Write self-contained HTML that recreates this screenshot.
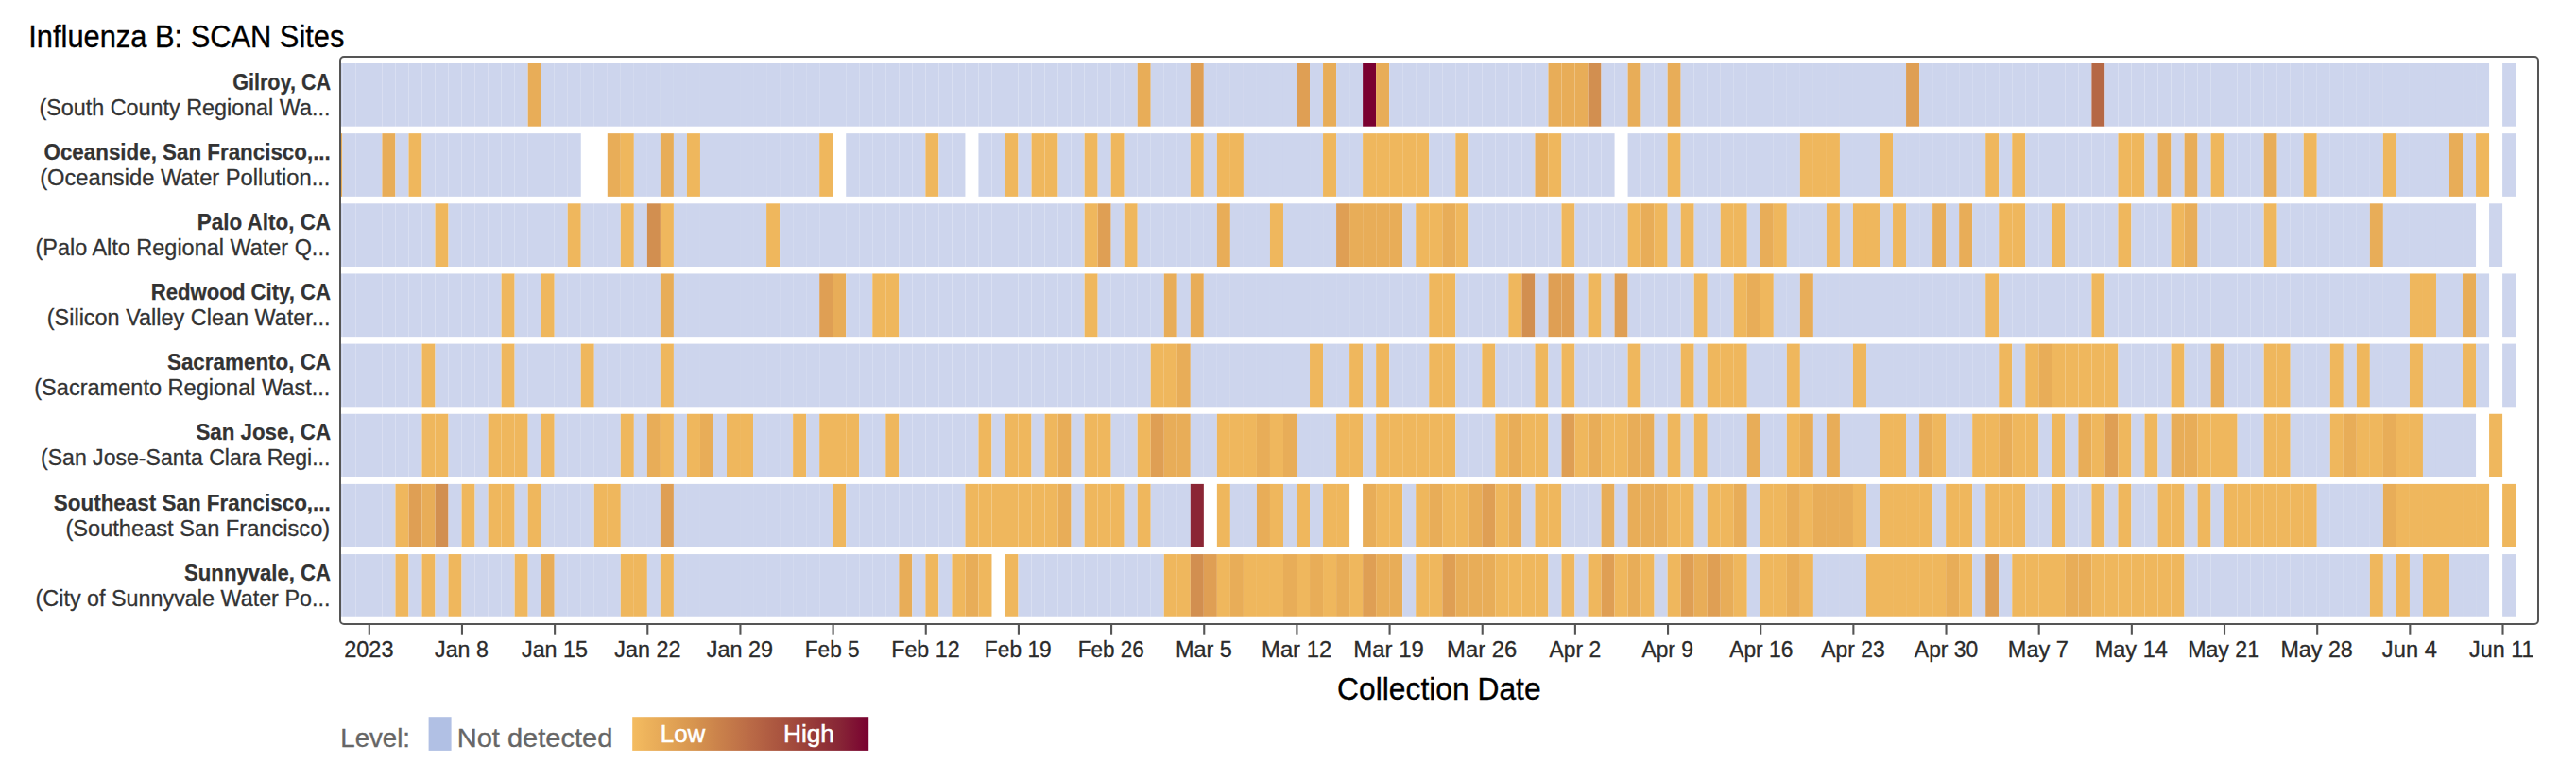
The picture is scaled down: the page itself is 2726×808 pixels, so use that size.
<!DOCTYPE html>
<html lang="en"><head><meta charset="utf-8"><title>Influenza B: SCAN Sites</title>
<style>
html,body{margin:0;padding:0;background:#fff;}
body{width:2726px;height:808px;overflow:hidden;font-family:"Liberation Sans",sans-serif;}
svg{display:block;}
text{font-family:"Liberation Sans",sans-serif;}
.t{font-size:32.6px;fill:#000;stroke:#000;stroke-width:0.35px;}
.lb{font-size:24.4px;font-weight:bold;fill:#333;stroke:#333;stroke-width:0.25px;}
.ls{font-size:24.4px;fill:#333;stroke:#333;stroke-width:0.3px;}
.tk{font-size:24.4px;fill:#2b2b2b;stroke:#2b2b2b;stroke-width:0.3px;}
.lg{font-size:28.5px;fill:#666;stroke:#666;stroke-width:0.35px;}
.lh{font-size:25px;fill:#fff;stroke:#fff;stroke-width:0.5px;}
</style></head><body>
<svg width="2726" height="808" viewBox="0 0 2726 808">
<defs>
<linearGradient id="g" x1="0" y1="0" x2="1" y2="0">
<stop offset="0" stop-color="#f4bc60"/><stop offset="0.25" stop-color="#d8964f"/><stop offset="0.5" stop-color="#ba6a46"/><stop offset="0.72" stop-color="#9d433a"/><stop offset="0.88" stop-color="#872536"/><stop offset="1" stop-color="#780030"/>
</linearGradient>
<clipPath id="cp"><rect x="360.5" y="60.5" width="2325" height="599" rx="3.5"/></clipPath>
</defs>
<rect width="2726" height="808" fill="#fff"/>
<g clip-path="url(#cp)">
<g transform="translate(0,67.00)">
<rect x="348.33" width="14.023" height="66.7" fill="#cdd5ed"/>
<rect x="362.35" width="14.023" height="66.7" fill="#cdd5ed"/>
<rect x="376.37" width="14.023" height="66.7" fill="#cdd5ed"/>
<rect x="390.40" width="14.023" height="66.7" fill="#cdd5ed"/>
<rect x="404.42" width="14.023" height="66.7" fill="#cdd5ed"/>
<rect x="418.44" width="14.023" height="66.7" fill="#cdd5ed"/>
<rect x="432.47" width="14.023" height="66.7" fill="#cdd5ed"/>
<rect x="446.49" width="14.023" height="66.7" fill="#cdd5ed"/>
<rect x="460.51" width="14.023" height="66.7" fill="#cdd5ed"/>
<rect x="474.53" width="14.023" height="66.7" fill="#cdd5ed"/>
<rect x="488.56" width="14.023" height="66.7" fill="#cdd5ed"/>
<rect x="502.58" width="14.023" height="66.7" fill="#cdd5ed"/>
<rect x="516.60" width="14.023" height="66.7" fill="#cdd5ed"/>
<rect x="530.63" width="14.023" height="66.7" fill="#cdd5ed"/>
<rect x="544.65" width="14.023" height="66.7" fill="#cdd5ed"/>
<rect x="558.67" width="14.023" height="66.7" fill="#e8ad58"/>
<rect x="572.70" width="14.023" height="66.7" fill="#cdd5ed"/>
<rect x="586.72" width="14.023" height="66.7" fill="#cdd5ed"/>
<rect x="600.74" width="14.023" height="66.7" fill="#cdd5ed"/>
<rect x="614.76" width="14.023" height="66.7" fill="#cdd5ed"/>
<rect x="628.79" width="14.023" height="66.7" fill="#cdd5ed"/>
<rect x="642.81" width="14.023" height="66.7" fill="#cdd5ed"/>
<rect x="656.83" width="14.023" height="66.7" fill="#cdd5ed"/>
<rect x="670.86" width="14.023" height="66.7" fill="#cdd5ed"/>
<rect x="684.88" width="14.023" height="66.7" fill="#cdd5ed"/>
<rect x="698.90" width="14.023" height="66.7" fill="#cdd5ed"/>
<rect x="712.92" width="14.023" height="66.7" fill="#cdd5ed"/>
<rect x="726.95" width="14.023" height="66.7" fill="#cdd5ed"/>
<rect x="740.97" width="14.023" height="66.7" fill="#cdd5ed"/>
<rect x="754.99" width="14.023" height="66.7" fill="#cdd5ed"/>
<rect x="769.02" width="14.023" height="66.7" fill="#cdd5ed"/>
<rect x="783.04" width="14.023" height="66.7" fill="#cdd5ed"/>
<rect x="797.06" width="14.023" height="66.7" fill="#cdd5ed"/>
<rect x="811.09" width="14.023" height="66.7" fill="#cdd5ed"/>
<rect x="825.11" width="14.023" height="66.7" fill="#cdd5ed"/>
<rect x="839.13" width="14.023" height="66.7" fill="#cdd5ed"/>
<rect x="853.15" width="14.023" height="66.7" fill="#cdd5ed"/>
<rect x="867.18" width="14.023" height="66.7" fill="#cdd5ed"/>
<rect x="881.20" width="14.023" height="66.7" fill="#cdd5ed"/>
<rect x="895.22" width="14.023" height="66.7" fill="#cdd5ed"/>
<rect x="909.25" width="14.023" height="66.7" fill="#cdd5ed"/>
<rect x="923.27" width="14.023" height="66.7" fill="#cdd5ed"/>
<rect x="937.29" width="14.023" height="66.7" fill="#cdd5ed"/>
<rect x="951.32" width="14.023" height="66.7" fill="#cdd5ed"/>
<rect x="965.34" width="14.023" height="66.7" fill="#cdd5ed"/>
<rect x="979.36" width="14.023" height="66.7" fill="#cdd5ed"/>
<rect x="993.38" width="14.023" height="66.7" fill="#cdd5ed"/>
<rect x="1007.41" width="14.023" height="66.7" fill="#cdd5ed"/>
<rect x="1021.43" width="14.023" height="66.7" fill="#cdd5ed"/>
<rect x="1035.45" width="14.023" height="66.7" fill="#cdd5ed"/>
<rect x="1049.48" width="14.023" height="66.7" fill="#cdd5ed"/>
<rect x="1063.50" width="14.023" height="66.7" fill="#cdd5ed"/>
<rect x="1077.52" width="14.023" height="66.7" fill="#cdd5ed"/>
<rect x="1091.55" width="14.023" height="66.7" fill="#cdd5ed"/>
<rect x="1105.57" width="14.023" height="66.7" fill="#cdd5ed"/>
<rect x="1119.59" width="14.023" height="66.7" fill="#cdd5ed"/>
<rect x="1133.62" width="14.023" height="66.7" fill="#cdd5ed"/>
<rect x="1147.64" width="14.023" height="66.7" fill="#cdd5ed"/>
<rect x="1161.66" width="14.023" height="66.7" fill="#cdd5ed"/>
<rect x="1175.68" width="14.023" height="66.7" fill="#cdd5ed"/>
<rect x="1189.71" width="14.023" height="66.7" fill="#cdd5ed"/>
<rect x="1203.73" width="14.023" height="66.7" fill="#e8ad58"/>
<rect x="1217.75" width="14.023" height="66.7" fill="#cdd5ed"/>
<rect x="1231.78" width="14.023" height="66.7" fill="#cdd5ed"/>
<rect x="1245.80" width="14.023" height="66.7" fill="#cdd5ed"/>
<rect x="1259.82" width="14.023" height="66.7" fill="#df9f54"/>
<rect x="1273.85" width="14.023" height="66.7" fill="#cdd5ed"/>
<rect x="1287.87" width="14.023" height="66.7" fill="#cdd5ed"/>
<rect x="1301.89" width="14.023" height="66.7" fill="#cdd5ed"/>
<rect x="1315.91" width="14.023" height="66.7" fill="#cdd5ed"/>
<rect x="1329.94" width="14.023" height="66.7" fill="#cdd5ed"/>
<rect x="1343.96" width="14.023" height="66.7" fill="#cdd5ed"/>
<rect x="1357.98" width="14.023" height="66.7" fill="#cdd5ed"/>
<rect x="1372.01" width="14.023" height="66.7" fill="#df9f54"/>
<rect x="1386.03" width="14.023" height="66.7" fill="#cdd5ed"/>
<rect x="1400.05" width="14.023" height="66.7" fill="#e8ad58"/>
<rect x="1414.07" width="14.023" height="66.7" fill="#cdd5ed"/>
<rect x="1428.10" width="14.023" height="66.7" fill="#cdd5ed"/>
<rect x="1442.12" width="14.023" height="66.7" fill="#7a0030"/>
<rect x="1456.14" width="14.023" height="66.7" fill="#e8ad58"/>
<rect x="1470.17" width="14.023" height="66.7" fill="#cdd5ed"/>
<rect x="1484.19" width="14.023" height="66.7" fill="#cdd5ed"/>
<rect x="1498.21" width="14.023" height="66.7" fill="#cdd5ed"/>
<rect x="1512.24" width="14.023" height="66.7" fill="#cdd5ed"/>
<rect x="1526.26" width="14.023" height="66.7" fill="#cdd5ed"/>
<rect x="1540.28" width="14.023" height="66.7" fill="#cdd5ed"/>
<rect x="1554.30" width="14.023" height="66.7" fill="#cdd5ed"/>
<rect x="1568.33" width="14.023" height="66.7" fill="#cdd5ed"/>
<rect x="1582.35" width="14.023" height="66.7" fill="#cdd5ed"/>
<rect x="1596.37" width="14.023" height="66.7" fill="#cdd5ed"/>
<rect x="1610.40" width="14.023" height="66.7" fill="#cdd5ed"/>
<rect x="1624.42" width="14.023" height="66.7" fill="#cdd5ed"/>
<rect x="1638.44" width="14.023" height="66.7" fill="#e8ad58"/>
<rect x="1652.47" width="14.023" height="66.7" fill="#e8ad58"/>
<rect x="1666.49" width="14.023" height="66.7" fill="#e8ad58"/>
<rect x="1680.51" width="14.023" height="66.7" fill="#d28f50"/>
<rect x="1694.53" width="14.023" height="66.7" fill="#cdd5ed"/>
<rect x="1708.56" width="14.023" height="66.7" fill="#cdd5ed"/>
<rect x="1722.58" width="14.023" height="66.7" fill="#e8ad58"/>
<rect x="1736.60" width="14.023" height="66.7" fill="#cdd5ed"/>
<rect x="1750.63" width="14.023" height="66.7" fill="#cdd5ed"/>
<rect x="1764.65" width="14.023" height="66.7" fill="#e8ad58"/>
<rect x="1778.67" width="14.023" height="66.7" fill="#cdd5ed"/>
<rect x="1792.70" width="14.023" height="66.7" fill="#cdd5ed"/>
<rect x="1806.72" width="14.023" height="66.7" fill="#cdd5ed"/>
<rect x="1820.74" width="14.023" height="66.7" fill="#cdd5ed"/>
<rect x="1834.76" width="14.023" height="66.7" fill="#cdd5ed"/>
<rect x="1848.79" width="14.023" height="66.7" fill="#cdd5ed"/>
<rect x="1862.81" width="14.023" height="66.7" fill="#cdd5ed"/>
<rect x="1876.83" width="14.023" height="66.7" fill="#cdd5ed"/>
<rect x="1890.86" width="14.023" height="66.7" fill="#cdd5ed"/>
<rect x="1904.88" width="14.023" height="66.7" fill="#cdd5ed"/>
<rect x="1918.90" width="14.023" height="66.7" fill="#cdd5ed"/>
<rect x="1932.93" width="14.023" height="66.7" fill="#cdd5ed"/>
<rect x="1946.95" width="14.023" height="66.7" fill="#cdd5ed"/>
<rect x="1960.97" width="14.023" height="66.7" fill="#cdd5ed"/>
<rect x="1974.99" width="14.023" height="66.7" fill="#cdd5ed"/>
<rect x="1989.02" width="14.023" height="66.7" fill="#cdd5ed"/>
<rect x="2003.04" width="14.023" height="66.7" fill="#cdd5ed"/>
<rect x="2017.06" width="14.023" height="66.7" fill="#df9f54"/>
<rect x="2031.09" width="14.023" height="66.7" fill="#cdd5ed"/>
<rect x="2045.11" width="14.023" height="66.7" fill="#cdd5ed"/>
<rect x="2059.13" width="14.023" height="66.7" fill="#cdd5ed"/>
<rect x="2073.16" width="14.023" height="66.7" fill="#cdd5ed"/>
<rect x="2087.18" width="14.023" height="66.7" fill="#cdd5ed"/>
<rect x="2101.20" width="14.023" height="66.7" fill="#cdd5ed"/>
<rect x="2115.22" width="14.023" height="66.7" fill="#cdd5ed"/>
<rect x="2129.25" width="14.023" height="66.7" fill="#cdd5ed"/>
<rect x="2143.27" width="14.023" height="66.7" fill="#cdd5ed"/>
<rect x="2157.29" width="14.023" height="66.7" fill="#cdd5ed"/>
<rect x="2171.32" width="14.023" height="66.7" fill="#cdd5ed"/>
<rect x="2185.34" width="14.023" height="66.7" fill="#cdd5ed"/>
<rect x="2199.36" width="14.023" height="66.7" fill="#cdd5ed"/>
<rect x="2213.39" width="14.023" height="66.7" fill="#b56845"/>
<rect x="2227.41" width="14.023" height="66.7" fill="#cdd5ed"/>
<rect x="2241.43" width="14.023" height="66.7" fill="#cdd5ed"/>
<rect x="2255.45" width="14.023" height="66.7" fill="#cdd5ed"/>
<rect x="2269.48" width="14.023" height="66.7" fill="#cdd5ed"/>
<rect x="2283.50" width="14.023" height="66.7" fill="#cdd5ed"/>
<rect x="2297.52" width="14.023" height="66.7" fill="#cdd5ed"/>
<rect x="2311.55" width="14.023" height="66.7" fill="#cdd5ed"/>
<rect x="2325.57" width="14.023" height="66.7" fill="#cdd5ed"/>
<rect x="2339.59" width="14.023" height="66.7" fill="#cdd5ed"/>
<rect x="2353.62" width="14.023" height="66.7" fill="#cdd5ed"/>
<rect x="2367.64" width="14.023" height="66.7" fill="#cdd5ed"/>
<rect x="2381.66" width="14.023" height="66.7" fill="#cdd5ed"/>
<rect x="2395.68" width="14.023" height="66.7" fill="#cdd5ed"/>
<rect x="2409.71" width="14.023" height="66.7" fill="#cdd5ed"/>
<rect x="2423.73" width="14.023" height="66.7" fill="#cdd5ed"/>
<rect x="2437.75" width="14.023" height="66.7" fill="#cdd5ed"/>
<rect x="2451.78" width="14.023" height="66.7" fill="#cdd5ed"/>
<rect x="2465.80" width="14.023" height="66.7" fill="#cdd5ed"/>
<rect x="2479.82" width="14.023" height="66.7" fill="#cdd5ed"/>
<rect x="2493.85" width="14.023" height="66.7" fill="#cdd5ed"/>
<rect x="2507.87" width="14.023" height="66.7" fill="#cdd5ed"/>
<rect x="2521.89" width="14.023" height="66.7" fill="#cdd5ed"/>
<rect x="2535.91" width="14.023" height="66.7" fill="#cdd5ed"/>
<rect x="2549.94" width="14.023" height="66.7" fill="#cdd5ed"/>
<rect x="2563.96" width="14.023" height="66.7" fill="#cdd5ed"/>
<rect x="2577.98" width="14.023" height="66.7" fill="#cdd5ed"/>
<rect x="2592.01" width="14.023" height="66.7" fill="#cdd5ed"/>
<rect x="2606.03" width="14.023" height="66.7" fill="#cdd5ed"/>
<rect x="2620.05" width="14.023" height="66.7" fill="#cdd5ed"/>
<rect x="2648.10" width="14.023" height="66.7" fill="#cdd5ed"/>
</g>
<g transform="translate(0,141.15)">
<rect x="348.33" width="14.023" height="66.7" fill="#e8ad58"/>
<rect x="362.35" width="14.023" height="66.7" fill="#cdd5ed"/>
<rect x="376.37" width="14.023" height="66.7" fill="#cdd5ed"/>
<rect x="390.40" width="14.023" height="66.7" fill="#cdd5ed"/>
<rect x="404.42" width="14.023" height="66.7" fill="#e8ad58"/>
<rect x="418.44" width="14.023" height="66.7" fill="#cdd5ed"/>
<rect x="432.47" width="14.023" height="66.7" fill="#efb75d"/>
<rect x="446.49" width="14.023" height="66.7" fill="#cdd5ed"/>
<rect x="460.51" width="14.023" height="66.7" fill="#cdd5ed"/>
<rect x="474.53" width="14.023" height="66.7" fill="#cdd5ed"/>
<rect x="488.56" width="14.023" height="66.7" fill="#cdd5ed"/>
<rect x="502.58" width="14.023" height="66.7" fill="#cdd5ed"/>
<rect x="516.60" width="14.023" height="66.7" fill="#cdd5ed"/>
<rect x="530.63" width="14.023" height="66.7" fill="#cdd5ed"/>
<rect x="544.65" width="14.023" height="66.7" fill="#cdd5ed"/>
<rect x="558.67" width="14.023" height="66.7" fill="#cdd5ed"/>
<rect x="572.70" width="14.023" height="66.7" fill="#cdd5ed"/>
<rect x="586.72" width="14.023" height="66.7" fill="#cdd5ed"/>
<rect x="600.74" width="14.023" height="66.7" fill="#cdd5ed"/>
<rect x="642.81" width="14.023" height="66.7" fill="#e8ad58"/>
<rect x="656.83" width="14.023" height="66.7" fill="#efb75d"/>
<rect x="670.86" width="14.023" height="66.7" fill="#cdd5ed"/>
<rect x="684.88" width="14.023" height="66.7" fill="#cdd5ed"/>
<rect x="698.90" width="14.023" height="66.7" fill="#e8ad58"/>
<rect x="712.92" width="14.023" height="66.7" fill="#cdd5ed"/>
<rect x="726.95" width="14.023" height="66.7" fill="#efb75d"/>
<rect x="740.97" width="14.023" height="66.7" fill="#cdd5ed"/>
<rect x="754.99" width="14.023" height="66.7" fill="#cdd5ed"/>
<rect x="769.02" width="14.023" height="66.7" fill="#cdd5ed"/>
<rect x="783.04" width="14.023" height="66.7" fill="#cdd5ed"/>
<rect x="797.06" width="14.023" height="66.7" fill="#cdd5ed"/>
<rect x="811.09" width="14.023" height="66.7" fill="#cdd5ed"/>
<rect x="825.11" width="14.023" height="66.7" fill="#cdd5ed"/>
<rect x="839.13" width="14.023" height="66.7" fill="#cdd5ed"/>
<rect x="853.15" width="14.023" height="66.7" fill="#cdd5ed"/>
<rect x="867.18" width="14.023" height="66.7" fill="#efb75d"/>
<rect x="895.22" width="14.023" height="66.7" fill="#cdd5ed"/>
<rect x="909.25" width="14.023" height="66.7" fill="#cdd5ed"/>
<rect x="923.27" width="14.023" height="66.7" fill="#cdd5ed"/>
<rect x="937.29" width="14.023" height="66.7" fill="#cdd5ed"/>
<rect x="951.32" width="14.023" height="66.7" fill="#cdd5ed"/>
<rect x="965.34" width="14.023" height="66.7" fill="#cdd5ed"/>
<rect x="979.36" width="14.023" height="66.7" fill="#efb75d"/>
<rect x="993.38" width="14.023" height="66.7" fill="#cdd5ed"/>
<rect x="1007.41" width="14.023" height="66.7" fill="#cdd5ed"/>
<rect x="1035.45" width="14.023" height="66.7" fill="#cdd5ed"/>
<rect x="1049.48" width="14.023" height="66.7" fill="#cdd5ed"/>
<rect x="1063.50" width="14.023" height="66.7" fill="#efb75d"/>
<rect x="1077.52" width="14.023" height="66.7" fill="#cdd5ed"/>
<rect x="1091.55" width="14.023" height="66.7" fill="#efb75d"/>
<rect x="1105.57" width="14.023" height="66.7" fill="#efb75d"/>
<rect x="1119.59" width="14.023" height="66.7" fill="#cdd5ed"/>
<rect x="1133.62" width="14.023" height="66.7" fill="#cdd5ed"/>
<rect x="1147.64" width="14.023" height="66.7" fill="#efb75d"/>
<rect x="1161.66" width="14.023" height="66.7" fill="#cdd5ed"/>
<rect x="1175.68" width="14.023" height="66.7" fill="#efb75d"/>
<rect x="1189.71" width="14.023" height="66.7" fill="#cdd5ed"/>
<rect x="1203.73" width="14.023" height="66.7" fill="#cdd5ed"/>
<rect x="1217.75" width="14.023" height="66.7" fill="#cdd5ed"/>
<rect x="1231.78" width="14.023" height="66.7" fill="#cdd5ed"/>
<rect x="1245.80" width="14.023" height="66.7" fill="#cdd5ed"/>
<rect x="1259.82" width="14.023" height="66.7" fill="#efb75d"/>
<rect x="1273.85" width="14.023" height="66.7" fill="#cdd5ed"/>
<rect x="1287.87" width="14.023" height="66.7" fill="#efb75d"/>
<rect x="1301.89" width="14.023" height="66.7" fill="#efb75d"/>
<rect x="1315.91" width="14.023" height="66.7" fill="#cdd5ed"/>
<rect x="1329.94" width="14.023" height="66.7" fill="#cdd5ed"/>
<rect x="1343.96" width="14.023" height="66.7" fill="#cdd5ed"/>
<rect x="1357.98" width="14.023" height="66.7" fill="#cdd5ed"/>
<rect x="1372.01" width="14.023" height="66.7" fill="#cdd5ed"/>
<rect x="1386.03" width="14.023" height="66.7" fill="#cdd5ed"/>
<rect x="1400.05" width="14.023" height="66.7" fill="#efb75d"/>
<rect x="1414.07" width="14.023" height="66.7" fill="#cdd5ed"/>
<rect x="1428.10" width="14.023" height="66.7" fill="#cdd5ed"/>
<rect x="1442.12" width="14.023" height="66.7" fill="#efb75d"/>
<rect x="1456.14" width="14.023" height="66.7" fill="#efb75d"/>
<rect x="1470.17" width="14.023" height="66.7" fill="#efb75d"/>
<rect x="1484.19" width="14.023" height="66.7" fill="#efb75d"/>
<rect x="1498.21" width="14.023" height="66.7" fill="#efb75d"/>
<rect x="1512.24" width="14.023" height="66.7" fill="#cdd5ed"/>
<rect x="1526.26" width="14.023" height="66.7" fill="#cdd5ed"/>
<rect x="1540.28" width="14.023" height="66.7" fill="#efb75d"/>
<rect x="1554.30" width="14.023" height="66.7" fill="#cdd5ed"/>
<rect x="1568.33" width="14.023" height="66.7" fill="#cdd5ed"/>
<rect x="1582.35" width="14.023" height="66.7" fill="#cdd5ed"/>
<rect x="1596.37" width="14.023" height="66.7" fill="#cdd5ed"/>
<rect x="1610.40" width="14.023" height="66.7" fill="#cdd5ed"/>
<rect x="1624.42" width="14.023" height="66.7" fill="#e8ad58"/>
<rect x="1638.44" width="14.023" height="66.7" fill="#efb75d"/>
<rect x="1652.47" width="14.023" height="66.7" fill="#cdd5ed"/>
<rect x="1666.49" width="14.023" height="66.7" fill="#cdd5ed"/>
<rect x="1680.51" width="14.023" height="66.7" fill="#cdd5ed"/>
<rect x="1694.53" width="14.023" height="66.7" fill="#cdd5ed"/>
<rect x="1722.58" width="14.023" height="66.7" fill="#cdd5ed"/>
<rect x="1736.60" width="14.023" height="66.7" fill="#cdd5ed"/>
<rect x="1750.63" width="14.023" height="66.7" fill="#cdd5ed"/>
<rect x="1764.65" width="14.023" height="66.7" fill="#efb75d"/>
<rect x="1778.67" width="14.023" height="66.7" fill="#cdd5ed"/>
<rect x="1792.70" width="14.023" height="66.7" fill="#cdd5ed"/>
<rect x="1806.72" width="14.023" height="66.7" fill="#cdd5ed"/>
<rect x="1820.74" width="14.023" height="66.7" fill="#cdd5ed"/>
<rect x="1834.76" width="14.023" height="66.7" fill="#cdd5ed"/>
<rect x="1848.79" width="14.023" height="66.7" fill="#cdd5ed"/>
<rect x="1862.81" width="14.023" height="66.7" fill="#cdd5ed"/>
<rect x="1876.83" width="14.023" height="66.7" fill="#cdd5ed"/>
<rect x="1890.86" width="14.023" height="66.7" fill="#cdd5ed"/>
<rect x="1904.88" width="14.023" height="66.7" fill="#efb75d"/>
<rect x="1918.90" width="14.023" height="66.7" fill="#efb75d"/>
<rect x="1932.93" width="14.023" height="66.7" fill="#efb75d"/>
<rect x="1946.95" width="14.023" height="66.7" fill="#cdd5ed"/>
<rect x="1960.97" width="14.023" height="66.7" fill="#cdd5ed"/>
<rect x="1974.99" width="14.023" height="66.7" fill="#cdd5ed"/>
<rect x="1989.02" width="14.023" height="66.7" fill="#efb75d"/>
<rect x="2003.04" width="14.023" height="66.7" fill="#cdd5ed"/>
<rect x="2017.06" width="14.023" height="66.7" fill="#cdd5ed"/>
<rect x="2031.09" width="14.023" height="66.7" fill="#cdd5ed"/>
<rect x="2045.11" width="14.023" height="66.7" fill="#cdd5ed"/>
<rect x="2059.13" width="14.023" height="66.7" fill="#cdd5ed"/>
<rect x="2073.16" width="14.023" height="66.7" fill="#cdd5ed"/>
<rect x="2087.18" width="14.023" height="66.7" fill="#cdd5ed"/>
<rect x="2101.20" width="14.023" height="66.7" fill="#efb75d"/>
<rect x="2115.22" width="14.023" height="66.7" fill="#cdd5ed"/>
<rect x="2129.25" width="14.023" height="66.7" fill="#efb75d"/>
<rect x="2143.27" width="14.023" height="66.7" fill="#cdd5ed"/>
<rect x="2157.29" width="14.023" height="66.7" fill="#cdd5ed"/>
<rect x="2171.32" width="14.023" height="66.7" fill="#cdd5ed"/>
<rect x="2185.34" width="14.023" height="66.7" fill="#cdd5ed"/>
<rect x="2199.36" width="14.023" height="66.7" fill="#cdd5ed"/>
<rect x="2213.39" width="14.023" height="66.7" fill="#cdd5ed"/>
<rect x="2227.41" width="14.023" height="66.7" fill="#cdd5ed"/>
<rect x="2241.43" width="14.023" height="66.7" fill="#efb75d"/>
<rect x="2255.45" width="14.023" height="66.7" fill="#efb75d"/>
<rect x="2269.48" width="14.023" height="66.7" fill="#cdd5ed"/>
<rect x="2283.50" width="14.023" height="66.7" fill="#e8ad58"/>
<rect x="2297.52" width="14.023" height="66.7" fill="#cdd5ed"/>
<rect x="2311.55" width="14.023" height="66.7" fill="#e8ad58"/>
<rect x="2325.57" width="14.023" height="66.7" fill="#cdd5ed"/>
<rect x="2339.59" width="14.023" height="66.7" fill="#efb75d"/>
<rect x="2353.62" width="14.023" height="66.7" fill="#cdd5ed"/>
<rect x="2367.64" width="14.023" height="66.7" fill="#cdd5ed"/>
<rect x="2381.66" width="14.023" height="66.7" fill="#cdd5ed"/>
<rect x="2395.68" width="14.023" height="66.7" fill="#e8ad58"/>
<rect x="2409.71" width="14.023" height="66.7" fill="#cdd5ed"/>
<rect x="2423.73" width="14.023" height="66.7" fill="#cdd5ed"/>
<rect x="2437.75" width="14.023" height="66.7" fill="#efb75d"/>
<rect x="2451.78" width="14.023" height="66.7" fill="#cdd5ed"/>
<rect x="2465.80" width="14.023" height="66.7" fill="#cdd5ed"/>
<rect x="2479.82" width="14.023" height="66.7" fill="#cdd5ed"/>
<rect x="2493.85" width="14.023" height="66.7" fill="#cdd5ed"/>
<rect x="2507.87" width="14.023" height="66.7" fill="#cdd5ed"/>
<rect x="2521.89" width="14.023" height="66.7" fill="#efb75d"/>
<rect x="2535.91" width="14.023" height="66.7" fill="#cdd5ed"/>
<rect x="2549.94" width="14.023" height="66.7" fill="#cdd5ed"/>
<rect x="2563.96" width="14.023" height="66.7" fill="#cdd5ed"/>
<rect x="2577.98" width="14.023" height="66.7" fill="#cdd5ed"/>
<rect x="2592.01" width="14.023" height="66.7" fill="#e8ad58"/>
<rect x="2606.03" width="14.023" height="66.7" fill="#cdd5ed"/>
<rect x="2620.05" width="14.023" height="66.7" fill="#efb75d"/>
<rect x="2648.10" width="14.023" height="66.7" fill="#cdd5ed"/>
</g>
<g transform="translate(0,215.30)">
<rect x="348.33" width="14.023" height="66.7" fill="#cdd5ed"/>
<rect x="362.35" width="14.023" height="66.7" fill="#cdd5ed"/>
<rect x="376.37" width="14.023" height="66.7" fill="#cdd5ed"/>
<rect x="390.40" width="14.023" height="66.7" fill="#cdd5ed"/>
<rect x="404.42" width="14.023" height="66.7" fill="#cdd5ed"/>
<rect x="418.44" width="14.023" height="66.7" fill="#cdd5ed"/>
<rect x="432.47" width="14.023" height="66.7" fill="#cdd5ed"/>
<rect x="446.49" width="14.023" height="66.7" fill="#cdd5ed"/>
<rect x="460.51" width="14.023" height="66.7" fill="#efb75d"/>
<rect x="474.53" width="14.023" height="66.7" fill="#cdd5ed"/>
<rect x="488.56" width="14.023" height="66.7" fill="#cdd5ed"/>
<rect x="502.58" width="14.023" height="66.7" fill="#cdd5ed"/>
<rect x="516.60" width="14.023" height="66.7" fill="#cdd5ed"/>
<rect x="530.63" width="14.023" height="66.7" fill="#cdd5ed"/>
<rect x="544.65" width="14.023" height="66.7" fill="#cdd5ed"/>
<rect x="558.67" width="14.023" height="66.7" fill="#cdd5ed"/>
<rect x="572.70" width="14.023" height="66.7" fill="#cdd5ed"/>
<rect x="586.72" width="14.023" height="66.7" fill="#cdd5ed"/>
<rect x="600.74" width="14.023" height="66.7" fill="#efb75d"/>
<rect x="614.76" width="14.023" height="66.7" fill="#cdd5ed"/>
<rect x="628.79" width="14.023" height="66.7" fill="#cdd5ed"/>
<rect x="642.81" width="14.023" height="66.7" fill="#cdd5ed"/>
<rect x="656.83" width="14.023" height="66.7" fill="#efb75d"/>
<rect x="670.86" width="14.023" height="66.7" fill="#cdd5ed"/>
<rect x="684.88" width="14.023" height="66.7" fill="#d28f50"/>
<rect x="698.90" width="14.023" height="66.7" fill="#efb75d"/>
<rect x="712.92" width="14.023" height="66.7" fill="#cdd5ed"/>
<rect x="726.95" width="14.023" height="66.7" fill="#cdd5ed"/>
<rect x="740.97" width="14.023" height="66.7" fill="#cdd5ed"/>
<rect x="754.99" width="14.023" height="66.7" fill="#cdd5ed"/>
<rect x="769.02" width="14.023" height="66.7" fill="#cdd5ed"/>
<rect x="783.04" width="14.023" height="66.7" fill="#cdd5ed"/>
<rect x="797.06" width="14.023" height="66.7" fill="#cdd5ed"/>
<rect x="811.09" width="14.023" height="66.7" fill="#efb75d"/>
<rect x="825.11" width="14.023" height="66.7" fill="#cdd5ed"/>
<rect x="839.13" width="14.023" height="66.7" fill="#cdd5ed"/>
<rect x="853.15" width="14.023" height="66.7" fill="#cdd5ed"/>
<rect x="867.18" width="14.023" height="66.7" fill="#cdd5ed"/>
<rect x="881.20" width="14.023" height="66.7" fill="#cdd5ed"/>
<rect x="895.22" width="14.023" height="66.7" fill="#cdd5ed"/>
<rect x="909.25" width="14.023" height="66.7" fill="#cdd5ed"/>
<rect x="923.27" width="14.023" height="66.7" fill="#cdd5ed"/>
<rect x="937.29" width="14.023" height="66.7" fill="#cdd5ed"/>
<rect x="951.32" width="14.023" height="66.7" fill="#cdd5ed"/>
<rect x="965.34" width="14.023" height="66.7" fill="#cdd5ed"/>
<rect x="979.36" width="14.023" height="66.7" fill="#cdd5ed"/>
<rect x="993.38" width="14.023" height="66.7" fill="#cdd5ed"/>
<rect x="1007.41" width="14.023" height="66.7" fill="#cdd5ed"/>
<rect x="1021.43" width="14.023" height="66.7" fill="#cdd5ed"/>
<rect x="1035.45" width="14.023" height="66.7" fill="#cdd5ed"/>
<rect x="1049.48" width="14.023" height="66.7" fill="#cdd5ed"/>
<rect x="1063.50" width="14.023" height="66.7" fill="#cdd5ed"/>
<rect x="1077.52" width="14.023" height="66.7" fill="#cdd5ed"/>
<rect x="1091.55" width="14.023" height="66.7" fill="#cdd5ed"/>
<rect x="1105.57" width="14.023" height="66.7" fill="#cdd5ed"/>
<rect x="1119.59" width="14.023" height="66.7" fill="#cdd5ed"/>
<rect x="1133.62" width="14.023" height="66.7" fill="#cdd5ed"/>
<rect x="1147.64" width="14.023" height="66.7" fill="#efb75d"/>
<rect x="1161.66" width="14.023" height="66.7" fill="#df9f54"/>
<rect x="1175.68" width="14.023" height="66.7" fill="#cdd5ed"/>
<rect x="1189.71" width="14.023" height="66.7" fill="#efb75d"/>
<rect x="1203.73" width="14.023" height="66.7" fill="#cdd5ed"/>
<rect x="1217.75" width="14.023" height="66.7" fill="#cdd5ed"/>
<rect x="1231.78" width="14.023" height="66.7" fill="#cdd5ed"/>
<rect x="1245.80" width="14.023" height="66.7" fill="#cdd5ed"/>
<rect x="1259.82" width="14.023" height="66.7" fill="#cdd5ed"/>
<rect x="1273.85" width="14.023" height="66.7" fill="#cdd5ed"/>
<rect x="1287.87" width="14.023" height="66.7" fill="#e8ad58"/>
<rect x="1301.89" width="14.023" height="66.7" fill="#cdd5ed"/>
<rect x="1315.91" width="14.023" height="66.7" fill="#cdd5ed"/>
<rect x="1329.94" width="14.023" height="66.7" fill="#cdd5ed"/>
<rect x="1343.96" width="14.023" height="66.7" fill="#efb75d"/>
<rect x="1357.98" width="14.023" height="66.7" fill="#cdd5ed"/>
<rect x="1372.01" width="14.023" height="66.7" fill="#cdd5ed"/>
<rect x="1386.03" width="14.023" height="66.7" fill="#cdd5ed"/>
<rect x="1400.05" width="14.023" height="66.7" fill="#cdd5ed"/>
<rect x="1414.07" width="14.023" height="66.7" fill="#df9f54"/>
<rect x="1428.10" width="14.023" height="66.7" fill="#e8ad58"/>
<rect x="1442.12" width="14.023" height="66.7" fill="#e8ad58"/>
<rect x="1456.14" width="14.023" height="66.7" fill="#e8ad58"/>
<rect x="1470.17" width="14.023" height="66.7" fill="#e8ad58"/>
<rect x="1484.19" width="14.023" height="66.7" fill="#cdd5ed"/>
<rect x="1498.21" width="14.023" height="66.7" fill="#efb75d"/>
<rect x="1512.24" width="14.023" height="66.7" fill="#efb75d"/>
<rect x="1526.26" width="14.023" height="66.7" fill="#e8ad58"/>
<rect x="1540.28" width="14.023" height="66.7" fill="#efb75d"/>
<rect x="1554.30" width="14.023" height="66.7" fill="#cdd5ed"/>
<rect x="1568.33" width="14.023" height="66.7" fill="#cdd5ed"/>
<rect x="1582.35" width="14.023" height="66.7" fill="#cdd5ed"/>
<rect x="1596.37" width="14.023" height="66.7" fill="#cdd5ed"/>
<rect x="1610.40" width="14.023" height="66.7" fill="#cdd5ed"/>
<rect x="1624.42" width="14.023" height="66.7" fill="#cdd5ed"/>
<rect x="1638.44" width="14.023" height="66.7" fill="#cdd5ed"/>
<rect x="1652.47" width="14.023" height="66.7" fill="#efb75d"/>
<rect x="1666.49" width="14.023" height="66.7" fill="#cdd5ed"/>
<rect x="1680.51" width="14.023" height="66.7" fill="#cdd5ed"/>
<rect x="1694.53" width="14.023" height="66.7" fill="#cdd5ed"/>
<rect x="1708.56" width="14.023" height="66.7" fill="#cdd5ed"/>
<rect x="1722.58" width="14.023" height="66.7" fill="#efb75d"/>
<rect x="1736.60" width="14.023" height="66.7" fill="#e8ad58"/>
<rect x="1750.63" width="14.023" height="66.7" fill="#efb75d"/>
<rect x="1764.65" width="14.023" height="66.7" fill="#cdd5ed"/>
<rect x="1778.67" width="14.023" height="66.7" fill="#efb75d"/>
<rect x="1792.70" width="14.023" height="66.7" fill="#cdd5ed"/>
<rect x="1806.72" width="14.023" height="66.7" fill="#cdd5ed"/>
<rect x="1820.74" width="14.023" height="66.7" fill="#efb75d"/>
<rect x="1834.76" width="14.023" height="66.7" fill="#efb75d"/>
<rect x="1848.79" width="14.023" height="66.7" fill="#cdd5ed"/>
<rect x="1862.81" width="14.023" height="66.7" fill="#e8ad58"/>
<rect x="1876.83" width="14.023" height="66.7" fill="#efb75d"/>
<rect x="1890.86" width="14.023" height="66.7" fill="#cdd5ed"/>
<rect x="1904.88" width="14.023" height="66.7" fill="#cdd5ed"/>
<rect x="1918.90" width="14.023" height="66.7" fill="#cdd5ed"/>
<rect x="1932.93" width="14.023" height="66.7" fill="#efb75d"/>
<rect x="1946.95" width="14.023" height="66.7" fill="#cdd5ed"/>
<rect x="1960.97" width="14.023" height="66.7" fill="#efb75d"/>
<rect x="1974.99" width="14.023" height="66.7" fill="#efb75d"/>
<rect x="1989.02" width="14.023" height="66.7" fill="#cdd5ed"/>
<rect x="2003.04" width="14.023" height="66.7" fill="#efb75d"/>
<rect x="2017.06" width="14.023" height="66.7" fill="#cdd5ed"/>
<rect x="2031.09" width="14.023" height="66.7" fill="#cdd5ed"/>
<rect x="2045.11" width="14.023" height="66.7" fill="#e8ad58"/>
<rect x="2059.13" width="14.023" height="66.7" fill="#cdd5ed"/>
<rect x="2073.16" width="14.023" height="66.7" fill="#e8ad58"/>
<rect x="2087.18" width="14.023" height="66.7" fill="#cdd5ed"/>
<rect x="2101.20" width="14.023" height="66.7" fill="#cdd5ed"/>
<rect x="2115.22" width="14.023" height="66.7" fill="#efb75d"/>
<rect x="2129.25" width="14.023" height="66.7" fill="#efb75d"/>
<rect x="2143.27" width="14.023" height="66.7" fill="#cdd5ed"/>
<rect x="2157.29" width="14.023" height="66.7" fill="#cdd5ed"/>
<rect x="2171.32" width="14.023" height="66.7" fill="#efb75d"/>
<rect x="2185.34" width="14.023" height="66.7" fill="#cdd5ed"/>
<rect x="2199.36" width="14.023" height="66.7" fill="#cdd5ed"/>
<rect x="2213.39" width="14.023" height="66.7" fill="#cdd5ed"/>
<rect x="2227.41" width="14.023" height="66.7" fill="#cdd5ed"/>
<rect x="2241.43" width="14.023" height="66.7" fill="#efb75d"/>
<rect x="2255.45" width="14.023" height="66.7" fill="#cdd5ed"/>
<rect x="2269.48" width="14.023" height="66.7" fill="#cdd5ed"/>
<rect x="2283.50" width="14.023" height="66.7" fill="#cdd5ed"/>
<rect x="2297.52" width="14.023" height="66.7" fill="#efb75d"/>
<rect x="2311.55" width="14.023" height="66.7" fill="#e8ad58"/>
<rect x="2325.57" width="14.023" height="66.7" fill="#cdd5ed"/>
<rect x="2339.59" width="14.023" height="66.7" fill="#cdd5ed"/>
<rect x="2353.62" width="14.023" height="66.7" fill="#cdd5ed"/>
<rect x="2367.64" width="14.023" height="66.7" fill="#cdd5ed"/>
<rect x="2381.66" width="14.023" height="66.7" fill="#cdd5ed"/>
<rect x="2395.68" width="14.023" height="66.7" fill="#efb75d"/>
<rect x="2409.71" width="14.023" height="66.7" fill="#cdd5ed"/>
<rect x="2423.73" width="14.023" height="66.7" fill="#cdd5ed"/>
<rect x="2437.75" width="14.023" height="66.7" fill="#cdd5ed"/>
<rect x="2451.78" width="14.023" height="66.7" fill="#cdd5ed"/>
<rect x="2465.80" width="14.023" height="66.7" fill="#cdd5ed"/>
<rect x="2479.82" width="14.023" height="66.7" fill="#cdd5ed"/>
<rect x="2493.85" width="14.023" height="66.7" fill="#cdd5ed"/>
<rect x="2507.87" width="14.023" height="66.7" fill="#e8ad58"/>
<rect x="2521.89" width="14.023" height="66.7" fill="#cdd5ed"/>
<rect x="2535.91" width="14.023" height="66.7" fill="#cdd5ed"/>
<rect x="2549.94" width="14.023" height="66.7" fill="#cdd5ed"/>
<rect x="2563.96" width="14.023" height="66.7" fill="#cdd5ed"/>
<rect x="2577.98" width="14.023" height="66.7" fill="#cdd5ed"/>
<rect x="2592.01" width="14.023" height="66.7" fill="#cdd5ed"/>
<rect x="2606.03" width="14.023" height="66.7" fill="#cdd5ed"/>
<rect x="2634.08" width="14.023" height="66.7" fill="#cdd5ed"/>
</g>
<g transform="translate(0,289.45)">
<rect x="348.33" width="14.023" height="66.7" fill="#cdd5ed"/>
<rect x="362.35" width="14.023" height="66.7" fill="#cdd5ed"/>
<rect x="376.37" width="14.023" height="66.7" fill="#cdd5ed"/>
<rect x="390.40" width="14.023" height="66.7" fill="#cdd5ed"/>
<rect x="404.42" width="14.023" height="66.7" fill="#cdd5ed"/>
<rect x="418.44" width="14.023" height="66.7" fill="#cdd5ed"/>
<rect x="432.47" width="14.023" height="66.7" fill="#cdd5ed"/>
<rect x="446.49" width="14.023" height="66.7" fill="#cdd5ed"/>
<rect x="460.51" width="14.023" height="66.7" fill="#cdd5ed"/>
<rect x="474.53" width="14.023" height="66.7" fill="#cdd5ed"/>
<rect x="488.56" width="14.023" height="66.7" fill="#cdd5ed"/>
<rect x="502.58" width="14.023" height="66.7" fill="#cdd5ed"/>
<rect x="516.60" width="14.023" height="66.7" fill="#cdd5ed"/>
<rect x="530.63" width="14.023" height="66.7" fill="#efb75d"/>
<rect x="544.65" width="14.023" height="66.7" fill="#cdd5ed"/>
<rect x="558.67" width="14.023" height="66.7" fill="#cdd5ed"/>
<rect x="572.70" width="14.023" height="66.7" fill="#efb75d"/>
<rect x="586.72" width="14.023" height="66.7" fill="#cdd5ed"/>
<rect x="600.74" width="14.023" height="66.7" fill="#cdd5ed"/>
<rect x="614.76" width="14.023" height="66.7" fill="#cdd5ed"/>
<rect x="628.79" width="14.023" height="66.7" fill="#cdd5ed"/>
<rect x="642.81" width="14.023" height="66.7" fill="#cdd5ed"/>
<rect x="656.83" width="14.023" height="66.7" fill="#cdd5ed"/>
<rect x="670.86" width="14.023" height="66.7" fill="#cdd5ed"/>
<rect x="684.88" width="14.023" height="66.7" fill="#cdd5ed"/>
<rect x="698.90" width="14.023" height="66.7" fill="#e8ad58"/>
<rect x="712.92" width="14.023" height="66.7" fill="#cdd5ed"/>
<rect x="726.95" width="14.023" height="66.7" fill="#cdd5ed"/>
<rect x="740.97" width="14.023" height="66.7" fill="#cdd5ed"/>
<rect x="754.99" width="14.023" height="66.7" fill="#cdd5ed"/>
<rect x="769.02" width="14.023" height="66.7" fill="#cdd5ed"/>
<rect x="783.04" width="14.023" height="66.7" fill="#cdd5ed"/>
<rect x="797.06" width="14.023" height="66.7" fill="#cdd5ed"/>
<rect x="811.09" width="14.023" height="66.7" fill="#cdd5ed"/>
<rect x="825.11" width="14.023" height="66.7" fill="#cdd5ed"/>
<rect x="839.13" width="14.023" height="66.7" fill="#cdd5ed"/>
<rect x="853.15" width="14.023" height="66.7" fill="#cdd5ed"/>
<rect x="867.18" width="14.023" height="66.7" fill="#df9f54"/>
<rect x="881.20" width="14.023" height="66.7" fill="#e8ad58"/>
<rect x="895.22" width="14.023" height="66.7" fill="#cdd5ed"/>
<rect x="909.25" width="14.023" height="66.7" fill="#cdd5ed"/>
<rect x="923.27" width="14.023" height="66.7" fill="#efb75d"/>
<rect x="937.29" width="14.023" height="66.7" fill="#efb75d"/>
<rect x="951.32" width="14.023" height="66.7" fill="#cdd5ed"/>
<rect x="965.34" width="14.023" height="66.7" fill="#cdd5ed"/>
<rect x="979.36" width="14.023" height="66.7" fill="#cdd5ed"/>
<rect x="993.38" width="14.023" height="66.7" fill="#cdd5ed"/>
<rect x="1007.41" width="14.023" height="66.7" fill="#cdd5ed"/>
<rect x="1021.43" width="14.023" height="66.7" fill="#cdd5ed"/>
<rect x="1035.45" width="14.023" height="66.7" fill="#cdd5ed"/>
<rect x="1049.48" width="14.023" height="66.7" fill="#cdd5ed"/>
<rect x="1063.50" width="14.023" height="66.7" fill="#cdd5ed"/>
<rect x="1077.52" width="14.023" height="66.7" fill="#cdd5ed"/>
<rect x="1091.55" width="14.023" height="66.7" fill="#cdd5ed"/>
<rect x="1105.57" width="14.023" height="66.7" fill="#cdd5ed"/>
<rect x="1119.59" width="14.023" height="66.7" fill="#cdd5ed"/>
<rect x="1133.62" width="14.023" height="66.7" fill="#cdd5ed"/>
<rect x="1147.64" width="14.023" height="66.7" fill="#efb75d"/>
<rect x="1161.66" width="14.023" height="66.7" fill="#cdd5ed"/>
<rect x="1175.68" width="14.023" height="66.7" fill="#cdd5ed"/>
<rect x="1189.71" width="14.023" height="66.7" fill="#cdd5ed"/>
<rect x="1203.73" width="14.023" height="66.7" fill="#cdd5ed"/>
<rect x="1217.75" width="14.023" height="66.7" fill="#cdd5ed"/>
<rect x="1231.78" width="14.023" height="66.7" fill="#e8ad58"/>
<rect x="1245.80" width="14.023" height="66.7" fill="#cdd5ed"/>
<rect x="1259.82" width="14.023" height="66.7" fill="#e8ad58"/>
<rect x="1273.85" width="14.023" height="66.7" fill="#cdd5ed"/>
<rect x="1287.87" width="14.023" height="66.7" fill="#cdd5ed"/>
<rect x="1301.89" width="14.023" height="66.7" fill="#cdd5ed"/>
<rect x="1315.91" width="14.023" height="66.7" fill="#cdd5ed"/>
<rect x="1329.94" width="14.023" height="66.7" fill="#cdd5ed"/>
<rect x="1343.96" width="14.023" height="66.7" fill="#cdd5ed"/>
<rect x="1357.98" width="14.023" height="66.7" fill="#cdd5ed"/>
<rect x="1372.01" width="14.023" height="66.7" fill="#cdd5ed"/>
<rect x="1386.03" width="14.023" height="66.7" fill="#cdd5ed"/>
<rect x="1400.05" width="14.023" height="66.7" fill="#cdd5ed"/>
<rect x="1414.07" width="14.023" height="66.7" fill="#cdd5ed"/>
<rect x="1428.10" width="14.023" height="66.7" fill="#cdd5ed"/>
<rect x="1442.12" width="14.023" height="66.7" fill="#cdd5ed"/>
<rect x="1456.14" width="14.023" height="66.7" fill="#cdd5ed"/>
<rect x="1470.17" width="14.023" height="66.7" fill="#cdd5ed"/>
<rect x="1484.19" width="14.023" height="66.7" fill="#cdd5ed"/>
<rect x="1498.21" width="14.023" height="66.7" fill="#cdd5ed"/>
<rect x="1512.24" width="14.023" height="66.7" fill="#efb75d"/>
<rect x="1526.26" width="14.023" height="66.7" fill="#efb75d"/>
<rect x="1540.28" width="14.023" height="66.7" fill="#cdd5ed"/>
<rect x="1554.30" width="14.023" height="66.7" fill="#cdd5ed"/>
<rect x="1568.33" width="14.023" height="66.7" fill="#cdd5ed"/>
<rect x="1582.35" width="14.023" height="66.7" fill="#cdd5ed"/>
<rect x="1596.37" width="14.023" height="66.7" fill="#efb75d"/>
<rect x="1610.40" width="14.023" height="66.7" fill="#d28f50"/>
<rect x="1624.42" width="14.023" height="66.7" fill="#cdd5ed"/>
<rect x="1638.44" width="14.023" height="66.7" fill="#df9f54"/>
<rect x="1652.47" width="14.023" height="66.7" fill="#df9f54"/>
<rect x="1666.49" width="14.023" height="66.7" fill="#cdd5ed"/>
<rect x="1680.51" width="14.023" height="66.7" fill="#efb75d"/>
<rect x="1694.53" width="14.023" height="66.7" fill="#cdd5ed"/>
<rect x="1708.56" width="14.023" height="66.7" fill="#df9f54"/>
<rect x="1722.58" width="14.023" height="66.7" fill="#cdd5ed"/>
<rect x="1736.60" width="14.023" height="66.7" fill="#cdd5ed"/>
<rect x="1750.63" width="14.023" height="66.7" fill="#cdd5ed"/>
<rect x="1764.65" width="14.023" height="66.7" fill="#cdd5ed"/>
<rect x="1778.67" width="14.023" height="66.7" fill="#cdd5ed"/>
<rect x="1792.70" width="14.023" height="66.7" fill="#efb75d"/>
<rect x="1806.72" width="14.023" height="66.7" fill="#cdd5ed"/>
<rect x="1820.74" width="14.023" height="66.7" fill="#cdd5ed"/>
<rect x="1834.76" width="14.023" height="66.7" fill="#efb75d"/>
<rect x="1848.79" width="14.023" height="66.7" fill="#e8ad58"/>
<rect x="1862.81" width="14.023" height="66.7" fill="#efb75d"/>
<rect x="1876.83" width="14.023" height="66.7" fill="#cdd5ed"/>
<rect x="1890.86" width="14.023" height="66.7" fill="#cdd5ed"/>
<rect x="1904.88" width="14.023" height="66.7" fill="#e8ad58"/>
<rect x="1918.90" width="14.023" height="66.7" fill="#cdd5ed"/>
<rect x="1932.93" width="14.023" height="66.7" fill="#cdd5ed"/>
<rect x="1946.95" width="14.023" height="66.7" fill="#cdd5ed"/>
<rect x="1960.97" width="14.023" height="66.7" fill="#cdd5ed"/>
<rect x="1974.99" width="14.023" height="66.7" fill="#cdd5ed"/>
<rect x="1989.02" width="14.023" height="66.7" fill="#cdd5ed"/>
<rect x="2003.04" width="14.023" height="66.7" fill="#cdd5ed"/>
<rect x="2017.06" width="14.023" height="66.7" fill="#cdd5ed"/>
<rect x="2031.09" width="14.023" height="66.7" fill="#cdd5ed"/>
<rect x="2045.11" width="14.023" height="66.7" fill="#cdd5ed"/>
<rect x="2059.13" width="14.023" height="66.7" fill="#cdd5ed"/>
<rect x="2073.16" width="14.023" height="66.7" fill="#cdd5ed"/>
<rect x="2087.18" width="14.023" height="66.7" fill="#cdd5ed"/>
<rect x="2101.20" width="14.023" height="66.7" fill="#efb75d"/>
<rect x="2115.22" width="14.023" height="66.7" fill="#cdd5ed"/>
<rect x="2129.25" width="14.023" height="66.7" fill="#cdd5ed"/>
<rect x="2143.27" width="14.023" height="66.7" fill="#cdd5ed"/>
<rect x="2157.29" width="14.023" height="66.7" fill="#cdd5ed"/>
<rect x="2171.32" width="14.023" height="66.7" fill="#cdd5ed"/>
<rect x="2185.34" width="14.023" height="66.7" fill="#cdd5ed"/>
<rect x="2199.36" width="14.023" height="66.7" fill="#cdd5ed"/>
<rect x="2213.39" width="14.023" height="66.7" fill="#efb75d"/>
<rect x="2227.41" width="14.023" height="66.7" fill="#cdd5ed"/>
<rect x="2241.43" width="14.023" height="66.7" fill="#cdd5ed"/>
<rect x="2255.45" width="14.023" height="66.7" fill="#cdd5ed"/>
<rect x="2269.48" width="14.023" height="66.7" fill="#cdd5ed"/>
<rect x="2283.50" width="14.023" height="66.7" fill="#cdd5ed"/>
<rect x="2297.52" width="14.023" height="66.7" fill="#cdd5ed"/>
<rect x="2311.55" width="14.023" height="66.7" fill="#cdd5ed"/>
<rect x="2325.57" width="14.023" height="66.7" fill="#cdd5ed"/>
<rect x="2339.59" width="14.023" height="66.7" fill="#cdd5ed"/>
<rect x="2353.62" width="14.023" height="66.7" fill="#cdd5ed"/>
<rect x="2367.64" width="14.023" height="66.7" fill="#cdd5ed"/>
<rect x="2381.66" width="14.023" height="66.7" fill="#cdd5ed"/>
<rect x="2395.68" width="14.023" height="66.7" fill="#cdd5ed"/>
<rect x="2409.71" width="14.023" height="66.7" fill="#cdd5ed"/>
<rect x="2423.73" width="14.023" height="66.7" fill="#cdd5ed"/>
<rect x="2437.75" width="14.023" height="66.7" fill="#cdd5ed"/>
<rect x="2451.78" width="14.023" height="66.7" fill="#cdd5ed"/>
<rect x="2465.80" width="14.023" height="66.7" fill="#cdd5ed"/>
<rect x="2479.82" width="14.023" height="66.7" fill="#cdd5ed"/>
<rect x="2493.85" width="14.023" height="66.7" fill="#cdd5ed"/>
<rect x="2507.87" width="14.023" height="66.7" fill="#cdd5ed"/>
<rect x="2521.89" width="14.023" height="66.7" fill="#cdd5ed"/>
<rect x="2535.91" width="14.023" height="66.7" fill="#cdd5ed"/>
<rect x="2549.94" width="14.023" height="66.7" fill="#efb75d"/>
<rect x="2563.96" width="14.023" height="66.7" fill="#efb75d"/>
<rect x="2577.98" width="14.023" height="66.7" fill="#cdd5ed"/>
<rect x="2592.01" width="14.023" height="66.7" fill="#cdd5ed"/>
<rect x="2606.03" width="14.023" height="66.7" fill="#e8ad58"/>
<rect x="2620.05" width="14.023" height="66.7" fill="#cdd5ed"/>
<rect x="2648.10" width="14.023" height="66.7" fill="#cdd5ed"/>
</g>
<g transform="translate(0,363.60)">
<rect x="348.33" width="14.023" height="66.7" fill="#cdd5ed"/>
<rect x="362.35" width="14.023" height="66.7" fill="#cdd5ed"/>
<rect x="376.37" width="14.023" height="66.7" fill="#cdd5ed"/>
<rect x="390.40" width="14.023" height="66.7" fill="#cdd5ed"/>
<rect x="404.42" width="14.023" height="66.7" fill="#cdd5ed"/>
<rect x="418.44" width="14.023" height="66.7" fill="#cdd5ed"/>
<rect x="432.47" width="14.023" height="66.7" fill="#cdd5ed"/>
<rect x="446.49" width="14.023" height="66.7" fill="#efb75d"/>
<rect x="460.51" width="14.023" height="66.7" fill="#cdd5ed"/>
<rect x="474.53" width="14.023" height="66.7" fill="#cdd5ed"/>
<rect x="488.56" width="14.023" height="66.7" fill="#cdd5ed"/>
<rect x="502.58" width="14.023" height="66.7" fill="#cdd5ed"/>
<rect x="516.60" width="14.023" height="66.7" fill="#cdd5ed"/>
<rect x="530.63" width="14.023" height="66.7" fill="#efb75d"/>
<rect x="544.65" width="14.023" height="66.7" fill="#cdd5ed"/>
<rect x="558.67" width="14.023" height="66.7" fill="#cdd5ed"/>
<rect x="572.70" width="14.023" height="66.7" fill="#cdd5ed"/>
<rect x="586.72" width="14.023" height="66.7" fill="#cdd5ed"/>
<rect x="600.74" width="14.023" height="66.7" fill="#cdd5ed"/>
<rect x="614.76" width="14.023" height="66.7" fill="#efb75d"/>
<rect x="628.79" width="14.023" height="66.7" fill="#cdd5ed"/>
<rect x="642.81" width="14.023" height="66.7" fill="#cdd5ed"/>
<rect x="656.83" width="14.023" height="66.7" fill="#cdd5ed"/>
<rect x="670.86" width="14.023" height="66.7" fill="#cdd5ed"/>
<rect x="684.88" width="14.023" height="66.7" fill="#cdd5ed"/>
<rect x="698.90" width="14.023" height="66.7" fill="#efb75d"/>
<rect x="712.92" width="14.023" height="66.7" fill="#cdd5ed"/>
<rect x="726.95" width="14.023" height="66.7" fill="#cdd5ed"/>
<rect x="740.97" width="14.023" height="66.7" fill="#cdd5ed"/>
<rect x="754.99" width="14.023" height="66.7" fill="#cdd5ed"/>
<rect x="769.02" width="14.023" height="66.7" fill="#cdd5ed"/>
<rect x="783.04" width="14.023" height="66.7" fill="#cdd5ed"/>
<rect x="797.06" width="14.023" height="66.7" fill="#cdd5ed"/>
<rect x="811.09" width="14.023" height="66.7" fill="#cdd5ed"/>
<rect x="825.11" width="14.023" height="66.7" fill="#cdd5ed"/>
<rect x="839.13" width="14.023" height="66.7" fill="#cdd5ed"/>
<rect x="853.15" width="14.023" height="66.7" fill="#cdd5ed"/>
<rect x="867.18" width="14.023" height="66.7" fill="#cdd5ed"/>
<rect x="881.20" width="14.023" height="66.7" fill="#cdd5ed"/>
<rect x="895.22" width="14.023" height="66.7" fill="#cdd5ed"/>
<rect x="909.25" width="14.023" height="66.7" fill="#cdd5ed"/>
<rect x="923.27" width="14.023" height="66.7" fill="#cdd5ed"/>
<rect x="937.29" width="14.023" height="66.7" fill="#cdd5ed"/>
<rect x="951.32" width="14.023" height="66.7" fill="#cdd5ed"/>
<rect x="965.34" width="14.023" height="66.7" fill="#cdd5ed"/>
<rect x="979.36" width="14.023" height="66.7" fill="#cdd5ed"/>
<rect x="993.38" width="14.023" height="66.7" fill="#cdd5ed"/>
<rect x="1007.41" width="14.023" height="66.7" fill="#cdd5ed"/>
<rect x="1021.43" width="14.023" height="66.7" fill="#cdd5ed"/>
<rect x="1035.45" width="14.023" height="66.7" fill="#cdd5ed"/>
<rect x="1049.48" width="14.023" height="66.7" fill="#cdd5ed"/>
<rect x="1063.50" width="14.023" height="66.7" fill="#cdd5ed"/>
<rect x="1077.52" width="14.023" height="66.7" fill="#cdd5ed"/>
<rect x="1091.55" width="14.023" height="66.7" fill="#cdd5ed"/>
<rect x="1105.57" width="14.023" height="66.7" fill="#cdd5ed"/>
<rect x="1119.59" width="14.023" height="66.7" fill="#cdd5ed"/>
<rect x="1133.62" width="14.023" height="66.7" fill="#cdd5ed"/>
<rect x="1147.64" width="14.023" height="66.7" fill="#cdd5ed"/>
<rect x="1161.66" width="14.023" height="66.7" fill="#cdd5ed"/>
<rect x="1175.68" width="14.023" height="66.7" fill="#cdd5ed"/>
<rect x="1189.71" width="14.023" height="66.7" fill="#cdd5ed"/>
<rect x="1203.73" width="14.023" height="66.7" fill="#cdd5ed"/>
<rect x="1217.75" width="14.023" height="66.7" fill="#efb75d"/>
<rect x="1231.78" width="14.023" height="66.7" fill="#efb75d"/>
<rect x="1245.80" width="14.023" height="66.7" fill="#e8ad58"/>
<rect x="1259.82" width="14.023" height="66.7" fill="#cdd5ed"/>
<rect x="1273.85" width="14.023" height="66.7" fill="#cdd5ed"/>
<rect x="1287.87" width="14.023" height="66.7" fill="#cdd5ed"/>
<rect x="1301.89" width="14.023" height="66.7" fill="#cdd5ed"/>
<rect x="1315.91" width="14.023" height="66.7" fill="#cdd5ed"/>
<rect x="1329.94" width="14.023" height="66.7" fill="#cdd5ed"/>
<rect x="1343.96" width="14.023" height="66.7" fill="#cdd5ed"/>
<rect x="1357.98" width="14.023" height="66.7" fill="#cdd5ed"/>
<rect x="1372.01" width="14.023" height="66.7" fill="#cdd5ed"/>
<rect x="1386.03" width="14.023" height="66.7" fill="#efb75d"/>
<rect x="1400.05" width="14.023" height="66.7" fill="#cdd5ed"/>
<rect x="1414.07" width="14.023" height="66.7" fill="#cdd5ed"/>
<rect x="1428.10" width="14.023" height="66.7" fill="#efb75d"/>
<rect x="1442.12" width="14.023" height="66.7" fill="#cdd5ed"/>
<rect x="1456.14" width="14.023" height="66.7" fill="#efb75d"/>
<rect x="1470.17" width="14.023" height="66.7" fill="#cdd5ed"/>
<rect x="1484.19" width="14.023" height="66.7" fill="#cdd5ed"/>
<rect x="1498.21" width="14.023" height="66.7" fill="#cdd5ed"/>
<rect x="1512.24" width="14.023" height="66.7" fill="#efb75d"/>
<rect x="1526.26" width="14.023" height="66.7" fill="#efb75d"/>
<rect x="1540.28" width="14.023" height="66.7" fill="#cdd5ed"/>
<rect x="1554.30" width="14.023" height="66.7" fill="#cdd5ed"/>
<rect x="1568.33" width="14.023" height="66.7" fill="#efb75d"/>
<rect x="1582.35" width="14.023" height="66.7" fill="#cdd5ed"/>
<rect x="1596.37" width="14.023" height="66.7" fill="#cdd5ed"/>
<rect x="1610.40" width="14.023" height="66.7" fill="#cdd5ed"/>
<rect x="1624.42" width="14.023" height="66.7" fill="#efb75d"/>
<rect x="1638.44" width="14.023" height="66.7" fill="#cdd5ed"/>
<rect x="1652.47" width="14.023" height="66.7" fill="#efb75d"/>
<rect x="1666.49" width="14.023" height="66.7" fill="#cdd5ed"/>
<rect x="1680.51" width="14.023" height="66.7" fill="#cdd5ed"/>
<rect x="1694.53" width="14.023" height="66.7" fill="#cdd5ed"/>
<rect x="1708.56" width="14.023" height="66.7" fill="#cdd5ed"/>
<rect x="1722.58" width="14.023" height="66.7" fill="#efb75d"/>
<rect x="1736.60" width="14.023" height="66.7" fill="#cdd5ed"/>
<rect x="1750.63" width="14.023" height="66.7" fill="#cdd5ed"/>
<rect x="1764.65" width="14.023" height="66.7" fill="#cdd5ed"/>
<rect x="1778.67" width="14.023" height="66.7" fill="#efb75d"/>
<rect x="1792.70" width="14.023" height="66.7" fill="#cdd5ed"/>
<rect x="1806.72" width="14.023" height="66.7" fill="#efb75d"/>
<rect x="1820.74" width="14.023" height="66.7" fill="#efb75d"/>
<rect x="1834.76" width="14.023" height="66.7" fill="#efb75d"/>
<rect x="1848.79" width="14.023" height="66.7" fill="#cdd5ed"/>
<rect x="1862.81" width="14.023" height="66.7" fill="#cdd5ed"/>
<rect x="1876.83" width="14.023" height="66.7" fill="#cdd5ed"/>
<rect x="1890.86" width="14.023" height="66.7" fill="#efb75d"/>
<rect x="1904.88" width="14.023" height="66.7" fill="#cdd5ed"/>
<rect x="1918.90" width="14.023" height="66.7" fill="#cdd5ed"/>
<rect x="1932.93" width="14.023" height="66.7" fill="#cdd5ed"/>
<rect x="1946.95" width="14.023" height="66.7" fill="#cdd5ed"/>
<rect x="1960.97" width="14.023" height="66.7" fill="#efb75d"/>
<rect x="1974.99" width="14.023" height="66.7" fill="#cdd5ed"/>
<rect x="1989.02" width="14.023" height="66.7" fill="#cdd5ed"/>
<rect x="2003.04" width="14.023" height="66.7" fill="#cdd5ed"/>
<rect x="2017.06" width="14.023" height="66.7" fill="#cdd5ed"/>
<rect x="2031.09" width="14.023" height="66.7" fill="#cdd5ed"/>
<rect x="2045.11" width="14.023" height="66.7" fill="#cdd5ed"/>
<rect x="2059.13" width="14.023" height="66.7" fill="#cdd5ed"/>
<rect x="2073.16" width="14.023" height="66.7" fill="#cdd5ed"/>
<rect x="2087.18" width="14.023" height="66.7" fill="#cdd5ed"/>
<rect x="2101.20" width="14.023" height="66.7" fill="#cdd5ed"/>
<rect x="2115.22" width="14.023" height="66.7" fill="#efb75d"/>
<rect x="2129.25" width="14.023" height="66.7" fill="#cdd5ed"/>
<rect x="2143.27" width="14.023" height="66.7" fill="#efb75d"/>
<rect x="2157.29" width="14.023" height="66.7" fill="#e8ad58"/>
<rect x="2171.32" width="14.023" height="66.7" fill="#efb75d"/>
<rect x="2185.34" width="14.023" height="66.7" fill="#efb75d"/>
<rect x="2199.36" width="14.023" height="66.7" fill="#efb75d"/>
<rect x="2213.39" width="14.023" height="66.7" fill="#efb75d"/>
<rect x="2227.41" width="14.023" height="66.7" fill="#efb75d"/>
<rect x="2241.43" width="14.023" height="66.7" fill="#cdd5ed"/>
<rect x="2255.45" width="14.023" height="66.7" fill="#cdd5ed"/>
<rect x="2269.48" width="14.023" height="66.7" fill="#cdd5ed"/>
<rect x="2283.50" width="14.023" height="66.7" fill="#cdd5ed"/>
<rect x="2297.52" width="14.023" height="66.7" fill="#efb75d"/>
<rect x="2311.55" width="14.023" height="66.7" fill="#cdd5ed"/>
<rect x="2325.57" width="14.023" height="66.7" fill="#cdd5ed"/>
<rect x="2339.59" width="14.023" height="66.7" fill="#e8ad58"/>
<rect x="2353.62" width="14.023" height="66.7" fill="#cdd5ed"/>
<rect x="2367.64" width="14.023" height="66.7" fill="#cdd5ed"/>
<rect x="2381.66" width="14.023" height="66.7" fill="#cdd5ed"/>
<rect x="2395.68" width="14.023" height="66.7" fill="#efb75d"/>
<rect x="2409.71" width="14.023" height="66.7" fill="#efb75d"/>
<rect x="2423.73" width="14.023" height="66.7" fill="#cdd5ed"/>
<rect x="2437.75" width="14.023" height="66.7" fill="#cdd5ed"/>
<rect x="2451.78" width="14.023" height="66.7" fill="#cdd5ed"/>
<rect x="2465.80" width="14.023" height="66.7" fill="#efb75d"/>
<rect x="2479.82" width="14.023" height="66.7" fill="#cdd5ed"/>
<rect x="2493.85" width="14.023" height="66.7" fill="#efb75d"/>
<rect x="2507.87" width="14.023" height="66.7" fill="#cdd5ed"/>
<rect x="2521.89" width="14.023" height="66.7" fill="#cdd5ed"/>
<rect x="2535.91" width="14.023" height="66.7" fill="#cdd5ed"/>
<rect x="2549.94" width="14.023" height="66.7" fill="#efb75d"/>
<rect x="2563.96" width="14.023" height="66.7" fill="#cdd5ed"/>
<rect x="2577.98" width="14.023" height="66.7" fill="#cdd5ed"/>
<rect x="2592.01" width="14.023" height="66.7" fill="#cdd5ed"/>
<rect x="2606.03" width="14.023" height="66.7" fill="#efb75d"/>
<rect x="2620.05" width="14.023" height="66.7" fill="#cdd5ed"/>
<rect x="2648.10" width="14.023" height="66.7" fill="#cdd5ed"/>
</g>
<g transform="translate(0,437.75)">
<rect x="348.33" width="14.023" height="66.7" fill="#cdd5ed"/>
<rect x="362.35" width="14.023" height="66.7" fill="#cdd5ed"/>
<rect x="376.37" width="14.023" height="66.7" fill="#cdd5ed"/>
<rect x="390.40" width="14.023" height="66.7" fill="#cdd5ed"/>
<rect x="404.42" width="14.023" height="66.7" fill="#cdd5ed"/>
<rect x="418.44" width="14.023" height="66.7" fill="#cdd5ed"/>
<rect x="432.47" width="14.023" height="66.7" fill="#cdd5ed"/>
<rect x="446.49" width="14.023" height="66.7" fill="#efb75d"/>
<rect x="460.51" width="14.023" height="66.7" fill="#efb75d"/>
<rect x="474.53" width="14.023" height="66.7" fill="#cdd5ed"/>
<rect x="488.56" width="14.023" height="66.7" fill="#cdd5ed"/>
<rect x="502.58" width="14.023" height="66.7" fill="#cdd5ed"/>
<rect x="516.60" width="14.023" height="66.7" fill="#efb75d"/>
<rect x="530.63" width="14.023" height="66.7" fill="#efb75d"/>
<rect x="544.65" width="14.023" height="66.7" fill="#efb75d"/>
<rect x="558.67" width="14.023" height="66.7" fill="#cdd5ed"/>
<rect x="572.70" width="14.023" height="66.7" fill="#efb75d"/>
<rect x="586.72" width="14.023" height="66.7" fill="#cdd5ed"/>
<rect x="600.74" width="14.023" height="66.7" fill="#cdd5ed"/>
<rect x="614.76" width="14.023" height="66.7" fill="#cdd5ed"/>
<rect x="628.79" width="14.023" height="66.7" fill="#cdd5ed"/>
<rect x="642.81" width="14.023" height="66.7" fill="#cdd5ed"/>
<rect x="656.83" width="14.023" height="66.7" fill="#efb75d"/>
<rect x="670.86" width="14.023" height="66.7" fill="#cdd5ed"/>
<rect x="684.88" width="14.023" height="66.7" fill="#e8ad58"/>
<rect x="698.90" width="14.023" height="66.7" fill="#efb75d"/>
<rect x="712.92" width="14.023" height="66.7" fill="#cdd5ed"/>
<rect x="726.95" width="14.023" height="66.7" fill="#efb75d"/>
<rect x="740.97" width="14.023" height="66.7" fill="#e8ad58"/>
<rect x="754.99" width="14.023" height="66.7" fill="#cdd5ed"/>
<rect x="769.02" width="14.023" height="66.7" fill="#efb75d"/>
<rect x="783.04" width="14.023" height="66.7" fill="#efb75d"/>
<rect x="797.06" width="14.023" height="66.7" fill="#cdd5ed"/>
<rect x="811.09" width="14.023" height="66.7" fill="#cdd5ed"/>
<rect x="825.11" width="14.023" height="66.7" fill="#cdd5ed"/>
<rect x="839.13" width="14.023" height="66.7" fill="#efb75d"/>
<rect x="853.15" width="14.023" height="66.7" fill="#cdd5ed"/>
<rect x="867.18" width="14.023" height="66.7" fill="#efb75d"/>
<rect x="881.20" width="14.023" height="66.7" fill="#efb75d"/>
<rect x="895.22" width="14.023" height="66.7" fill="#efb75d"/>
<rect x="909.25" width="14.023" height="66.7" fill="#cdd5ed"/>
<rect x="923.27" width="14.023" height="66.7" fill="#cdd5ed"/>
<rect x="937.29" width="14.023" height="66.7" fill="#efb75d"/>
<rect x="951.32" width="14.023" height="66.7" fill="#cdd5ed"/>
<rect x="965.34" width="14.023" height="66.7" fill="#cdd5ed"/>
<rect x="979.36" width="14.023" height="66.7" fill="#cdd5ed"/>
<rect x="993.38" width="14.023" height="66.7" fill="#cdd5ed"/>
<rect x="1007.41" width="14.023" height="66.7" fill="#cdd5ed"/>
<rect x="1021.43" width="14.023" height="66.7" fill="#cdd5ed"/>
<rect x="1035.45" width="14.023" height="66.7" fill="#efb75d"/>
<rect x="1049.48" width="14.023" height="66.7" fill="#cdd5ed"/>
<rect x="1063.50" width="14.023" height="66.7" fill="#efb75d"/>
<rect x="1077.52" width="14.023" height="66.7" fill="#efb75d"/>
<rect x="1091.55" width="14.023" height="66.7" fill="#cdd5ed"/>
<rect x="1105.57" width="14.023" height="66.7" fill="#efb75d"/>
<rect x="1119.59" width="14.023" height="66.7" fill="#e8ad58"/>
<rect x="1133.62" width="14.023" height="66.7" fill="#cdd5ed"/>
<rect x="1147.64" width="14.023" height="66.7" fill="#efb75d"/>
<rect x="1161.66" width="14.023" height="66.7" fill="#efb75d"/>
<rect x="1175.68" width="14.023" height="66.7" fill="#cdd5ed"/>
<rect x="1189.71" width="14.023" height="66.7" fill="#cdd5ed"/>
<rect x="1203.73" width="14.023" height="66.7" fill="#efb75d"/>
<rect x="1217.75" width="14.023" height="66.7" fill="#df9f54"/>
<rect x="1231.78" width="14.023" height="66.7" fill="#e8ad58"/>
<rect x="1245.80" width="14.023" height="66.7" fill="#e8ad58"/>
<rect x="1259.82" width="14.023" height="66.7" fill="#cdd5ed"/>
<rect x="1273.85" width="14.023" height="66.7" fill="#cdd5ed"/>
<rect x="1287.87" width="14.023" height="66.7" fill="#efb75d"/>
<rect x="1301.89" width="14.023" height="66.7" fill="#efb75d"/>
<rect x="1315.91" width="14.023" height="66.7" fill="#efb75d"/>
<rect x="1329.94" width="14.023" height="66.7" fill="#e8ad58"/>
<rect x="1343.96" width="14.023" height="66.7" fill="#efb75d"/>
<rect x="1357.98" width="14.023" height="66.7" fill="#e8ad58"/>
<rect x="1372.01" width="14.023" height="66.7" fill="#cdd5ed"/>
<rect x="1386.03" width="14.023" height="66.7" fill="#cdd5ed"/>
<rect x="1400.05" width="14.023" height="66.7" fill="#cdd5ed"/>
<rect x="1414.07" width="14.023" height="66.7" fill="#efb75d"/>
<rect x="1428.10" width="14.023" height="66.7" fill="#efb75d"/>
<rect x="1442.12" width="14.023" height="66.7" fill="#cdd5ed"/>
<rect x="1456.14" width="14.023" height="66.7" fill="#efb75d"/>
<rect x="1470.17" width="14.023" height="66.7" fill="#efb75d"/>
<rect x="1484.19" width="14.023" height="66.7" fill="#efb75d"/>
<rect x="1498.21" width="14.023" height="66.7" fill="#efb75d"/>
<rect x="1512.24" width="14.023" height="66.7" fill="#efb75d"/>
<rect x="1526.26" width="14.023" height="66.7" fill="#efb75d"/>
<rect x="1540.28" width="14.023" height="66.7" fill="#cdd5ed"/>
<rect x="1554.30" width="14.023" height="66.7" fill="#cdd5ed"/>
<rect x="1568.33" width="14.023" height="66.7" fill="#cdd5ed"/>
<rect x="1582.35" width="14.023" height="66.7" fill="#efb75d"/>
<rect x="1596.37" width="14.023" height="66.7" fill="#e8ad58"/>
<rect x="1610.40" width="14.023" height="66.7" fill="#efb75d"/>
<rect x="1624.42" width="14.023" height="66.7" fill="#efb75d"/>
<rect x="1638.44" width="14.023" height="66.7" fill="#cdd5ed"/>
<rect x="1652.47" width="14.023" height="66.7" fill="#df9f54"/>
<rect x="1666.49" width="14.023" height="66.7" fill="#efb75d"/>
<rect x="1680.51" width="14.023" height="66.7" fill="#e8ad58"/>
<rect x="1694.53" width="14.023" height="66.7" fill="#efb75d"/>
<rect x="1708.56" width="14.023" height="66.7" fill="#efb75d"/>
<rect x="1722.58" width="14.023" height="66.7" fill="#e8ad58"/>
<rect x="1736.60" width="14.023" height="66.7" fill="#e8ad58"/>
<rect x="1750.63" width="14.023" height="66.7" fill="#cdd5ed"/>
<rect x="1764.65" width="14.023" height="66.7" fill="#efb75d"/>
<rect x="1778.67" width="14.023" height="66.7" fill="#cdd5ed"/>
<rect x="1792.70" width="14.023" height="66.7" fill="#efb75d"/>
<rect x="1806.72" width="14.023" height="66.7" fill="#cdd5ed"/>
<rect x="1820.74" width="14.023" height="66.7" fill="#cdd5ed"/>
<rect x="1834.76" width="14.023" height="66.7" fill="#cdd5ed"/>
<rect x="1848.79" width="14.023" height="66.7" fill="#e8ad58"/>
<rect x="1862.81" width="14.023" height="66.7" fill="#cdd5ed"/>
<rect x="1876.83" width="14.023" height="66.7" fill="#cdd5ed"/>
<rect x="1890.86" width="14.023" height="66.7" fill="#efb75d"/>
<rect x="1904.88" width="14.023" height="66.7" fill="#e8ad58"/>
<rect x="1918.90" width="14.023" height="66.7" fill="#cdd5ed"/>
<rect x="1932.93" width="14.023" height="66.7" fill="#e8ad58"/>
<rect x="1946.95" width="14.023" height="66.7" fill="#cdd5ed"/>
<rect x="1960.97" width="14.023" height="66.7" fill="#cdd5ed"/>
<rect x="1974.99" width="14.023" height="66.7" fill="#cdd5ed"/>
<rect x="1989.02" width="14.023" height="66.7" fill="#efb75d"/>
<rect x="2003.04" width="14.023" height="66.7" fill="#efb75d"/>
<rect x="2017.06" width="14.023" height="66.7" fill="#cdd5ed"/>
<rect x="2031.09" width="14.023" height="66.7" fill="#e8ad58"/>
<rect x="2045.11" width="14.023" height="66.7" fill="#efb75d"/>
<rect x="2059.13" width="14.023" height="66.7" fill="#cdd5ed"/>
<rect x="2073.16" width="14.023" height="66.7" fill="#cdd5ed"/>
<rect x="2087.18" width="14.023" height="66.7" fill="#efb75d"/>
<rect x="2101.20" width="14.023" height="66.7" fill="#efb75d"/>
<rect x="2115.22" width="14.023" height="66.7" fill="#e8ad58"/>
<rect x="2129.25" width="14.023" height="66.7" fill="#efb75d"/>
<rect x="2143.27" width="14.023" height="66.7" fill="#efb75d"/>
<rect x="2157.29" width="14.023" height="66.7" fill="#cdd5ed"/>
<rect x="2171.32" width="14.023" height="66.7" fill="#efb75d"/>
<rect x="2185.34" width="14.023" height="66.7" fill="#cdd5ed"/>
<rect x="2199.36" width="14.023" height="66.7" fill="#e8ad58"/>
<rect x="2213.39" width="14.023" height="66.7" fill="#efb75d"/>
<rect x="2227.41" width="14.023" height="66.7" fill="#df9f54"/>
<rect x="2241.43" width="14.023" height="66.7" fill="#efb75d"/>
<rect x="2255.45" width="14.023" height="66.7" fill="#cdd5ed"/>
<rect x="2269.48" width="14.023" height="66.7" fill="#efb75d"/>
<rect x="2283.50" width="14.023" height="66.7" fill="#cdd5ed"/>
<rect x="2297.52" width="14.023" height="66.7" fill="#e8ad58"/>
<rect x="2311.55" width="14.023" height="66.7" fill="#e8ad58"/>
<rect x="2325.57" width="14.023" height="66.7" fill="#efb75d"/>
<rect x="2339.59" width="14.023" height="66.7" fill="#efb75d"/>
<rect x="2353.62" width="14.023" height="66.7" fill="#efb75d"/>
<rect x="2367.64" width="14.023" height="66.7" fill="#cdd5ed"/>
<rect x="2381.66" width="14.023" height="66.7" fill="#cdd5ed"/>
<rect x="2395.68" width="14.023" height="66.7" fill="#efb75d"/>
<rect x="2409.71" width="14.023" height="66.7" fill="#efb75d"/>
<rect x="2423.73" width="14.023" height="66.7" fill="#cdd5ed"/>
<rect x="2437.75" width="14.023" height="66.7" fill="#cdd5ed"/>
<rect x="2451.78" width="14.023" height="66.7" fill="#cdd5ed"/>
<rect x="2465.80" width="14.023" height="66.7" fill="#efb75d"/>
<rect x="2479.82" width="14.023" height="66.7" fill="#e8ad58"/>
<rect x="2493.85" width="14.023" height="66.7" fill="#efb75d"/>
<rect x="2507.87" width="14.023" height="66.7" fill="#efb75d"/>
<rect x="2521.89" width="14.023" height="66.7" fill="#e8ad58"/>
<rect x="2535.91" width="14.023" height="66.7" fill="#efb75d"/>
<rect x="2549.94" width="14.023" height="66.7" fill="#efb75d"/>
<rect x="2563.96" width="14.023" height="66.7" fill="#cdd5ed"/>
<rect x="2577.98" width="14.023" height="66.7" fill="#cdd5ed"/>
<rect x="2592.01" width="14.023" height="66.7" fill="#cdd5ed"/>
<rect x="2606.03" width="14.023" height="66.7" fill="#cdd5ed"/>
<rect x="2634.08" width="14.023" height="66.7" fill="#efb75d"/>
</g>
<g transform="translate(0,511.90)">
<rect x="348.33" width="14.023" height="66.7" fill="#cdd5ed"/>
<rect x="362.35" width="14.023" height="66.7" fill="#cdd5ed"/>
<rect x="376.37" width="14.023" height="66.7" fill="#cdd5ed"/>
<rect x="390.40" width="14.023" height="66.7" fill="#cdd5ed"/>
<rect x="404.42" width="14.023" height="66.7" fill="#cdd5ed"/>
<rect x="418.44" width="14.023" height="66.7" fill="#efb75d"/>
<rect x="432.47" width="14.023" height="66.7" fill="#df9f54"/>
<rect x="446.49" width="14.023" height="66.7" fill="#e8ad58"/>
<rect x="460.51" width="14.023" height="66.7" fill="#d28f50"/>
<rect x="474.53" width="14.023" height="66.7" fill="#cdd5ed"/>
<rect x="488.56" width="14.023" height="66.7" fill="#efb75d"/>
<rect x="502.58" width="14.023" height="66.7" fill="#cdd5ed"/>
<rect x="516.60" width="14.023" height="66.7" fill="#efb75d"/>
<rect x="530.63" width="14.023" height="66.7" fill="#efb75d"/>
<rect x="544.65" width="14.023" height="66.7" fill="#cdd5ed"/>
<rect x="558.67" width="14.023" height="66.7" fill="#efb75d"/>
<rect x="572.70" width="14.023" height="66.7" fill="#cdd5ed"/>
<rect x="586.72" width="14.023" height="66.7" fill="#cdd5ed"/>
<rect x="600.74" width="14.023" height="66.7" fill="#cdd5ed"/>
<rect x="614.76" width="14.023" height="66.7" fill="#cdd5ed"/>
<rect x="628.79" width="14.023" height="66.7" fill="#efb75d"/>
<rect x="642.81" width="14.023" height="66.7" fill="#efb75d"/>
<rect x="656.83" width="14.023" height="66.7" fill="#cdd5ed"/>
<rect x="670.86" width="14.023" height="66.7" fill="#cdd5ed"/>
<rect x="684.88" width="14.023" height="66.7" fill="#cdd5ed"/>
<rect x="698.90" width="14.023" height="66.7" fill="#df9f54"/>
<rect x="712.92" width="14.023" height="66.7" fill="#cdd5ed"/>
<rect x="726.95" width="14.023" height="66.7" fill="#cdd5ed"/>
<rect x="740.97" width="14.023" height="66.7" fill="#cdd5ed"/>
<rect x="754.99" width="14.023" height="66.7" fill="#cdd5ed"/>
<rect x="769.02" width="14.023" height="66.7" fill="#cdd5ed"/>
<rect x="783.04" width="14.023" height="66.7" fill="#cdd5ed"/>
<rect x="797.06" width="14.023" height="66.7" fill="#cdd5ed"/>
<rect x="811.09" width="14.023" height="66.7" fill="#cdd5ed"/>
<rect x="825.11" width="14.023" height="66.7" fill="#cdd5ed"/>
<rect x="839.13" width="14.023" height="66.7" fill="#cdd5ed"/>
<rect x="853.15" width="14.023" height="66.7" fill="#cdd5ed"/>
<rect x="867.18" width="14.023" height="66.7" fill="#cdd5ed"/>
<rect x="881.20" width="14.023" height="66.7" fill="#efb75d"/>
<rect x="895.22" width="14.023" height="66.7" fill="#cdd5ed"/>
<rect x="909.25" width="14.023" height="66.7" fill="#cdd5ed"/>
<rect x="923.27" width="14.023" height="66.7" fill="#cdd5ed"/>
<rect x="937.29" width="14.023" height="66.7" fill="#cdd5ed"/>
<rect x="951.32" width="14.023" height="66.7" fill="#cdd5ed"/>
<rect x="965.34" width="14.023" height="66.7" fill="#cdd5ed"/>
<rect x="979.36" width="14.023" height="66.7" fill="#cdd5ed"/>
<rect x="993.38" width="14.023" height="66.7" fill="#cdd5ed"/>
<rect x="1007.41" width="14.023" height="66.7" fill="#cdd5ed"/>
<rect x="1021.43" width="14.023" height="66.7" fill="#efb75d"/>
<rect x="1035.45" width="14.023" height="66.7" fill="#efb75d"/>
<rect x="1049.48" width="14.023" height="66.7" fill="#efb75d"/>
<rect x="1063.50" width="14.023" height="66.7" fill="#efb75d"/>
<rect x="1077.52" width="14.023" height="66.7" fill="#efb75d"/>
<rect x="1091.55" width="14.023" height="66.7" fill="#efb75d"/>
<rect x="1105.57" width="14.023" height="66.7" fill="#efb75d"/>
<rect x="1119.59" width="14.023" height="66.7" fill="#e8ad58"/>
<rect x="1133.62" width="14.023" height="66.7" fill="#cdd5ed"/>
<rect x="1147.64" width="14.023" height="66.7" fill="#efb75d"/>
<rect x="1161.66" width="14.023" height="66.7" fill="#efb75d"/>
<rect x="1175.68" width="14.023" height="66.7" fill="#efb75d"/>
<rect x="1189.71" width="14.023" height="66.7" fill="#cdd5ed"/>
<rect x="1203.73" width="14.023" height="66.7" fill="#efb75d"/>
<rect x="1217.75" width="14.023" height="66.7" fill="#cdd5ed"/>
<rect x="1231.78" width="14.023" height="66.7" fill="#cdd5ed"/>
<rect x="1245.80" width="14.023" height="66.7" fill="#cdd5ed"/>
<rect x="1259.82" width="14.023" height="66.7" fill="#8b2635"/>
<rect x="1287.87" width="14.023" height="66.7" fill="#efb75d"/>
<rect x="1301.89" width="14.023" height="66.7" fill="#cdd5ed"/>
<rect x="1315.91" width="14.023" height="66.7" fill="#cdd5ed"/>
<rect x="1329.94" width="14.023" height="66.7" fill="#e8ad58"/>
<rect x="1343.96" width="14.023" height="66.7" fill="#efb75d"/>
<rect x="1357.98" width="14.023" height="66.7" fill="#cdd5ed"/>
<rect x="1372.01" width="14.023" height="66.7" fill="#efb75d"/>
<rect x="1386.03" width="14.023" height="66.7" fill="#cdd5ed"/>
<rect x="1400.05" width="14.023" height="66.7" fill="#efb75d"/>
<rect x="1414.07" width="14.023" height="66.7" fill="#efb75d"/>
<rect x="1442.12" width="14.023" height="66.7" fill="#e8ad58"/>
<rect x="1456.14" width="14.023" height="66.7" fill="#efb75d"/>
<rect x="1470.17" width="14.023" height="66.7" fill="#efb75d"/>
<rect x="1484.19" width="14.023" height="66.7" fill="#cdd5ed"/>
<rect x="1498.21" width="14.023" height="66.7" fill="#efb75d"/>
<rect x="1512.24" width="14.023" height="66.7" fill="#e8ad58"/>
<rect x="1526.26" width="14.023" height="66.7" fill="#efb75d"/>
<rect x="1540.28" width="14.023" height="66.7" fill="#efb75d"/>
<rect x="1554.30" width="14.023" height="66.7" fill="#e8ad58"/>
<rect x="1568.33" width="14.023" height="66.7" fill="#df9f54"/>
<rect x="1582.35" width="14.023" height="66.7" fill="#efb75d"/>
<rect x="1596.37" width="14.023" height="66.7" fill="#e8ad58"/>
<rect x="1610.40" width="14.023" height="66.7" fill="#cdd5ed"/>
<rect x="1624.42" width="14.023" height="66.7" fill="#efb75d"/>
<rect x="1638.44" width="14.023" height="66.7" fill="#efb75d"/>
<rect x="1652.47" width="14.023" height="66.7" fill="#cdd5ed"/>
<rect x="1666.49" width="14.023" height="66.7" fill="#cdd5ed"/>
<rect x="1680.51" width="14.023" height="66.7" fill="#cdd5ed"/>
<rect x="1694.53" width="14.023" height="66.7" fill="#e8ad58"/>
<rect x="1708.56" width="14.023" height="66.7" fill="#cdd5ed"/>
<rect x="1722.58" width="14.023" height="66.7" fill="#e8ad58"/>
<rect x="1736.60" width="14.023" height="66.7" fill="#e8ad58"/>
<rect x="1750.63" width="14.023" height="66.7" fill="#e8ad58"/>
<rect x="1764.65" width="14.023" height="66.7" fill="#efb75d"/>
<rect x="1778.67" width="14.023" height="66.7" fill="#efb75d"/>
<rect x="1792.70" width="14.023" height="66.7" fill="#cdd5ed"/>
<rect x="1806.72" width="14.023" height="66.7" fill="#efb75d"/>
<rect x="1820.74" width="14.023" height="66.7" fill="#efb75d"/>
<rect x="1834.76" width="14.023" height="66.7" fill="#e8ad58"/>
<rect x="1848.79" width="14.023" height="66.7" fill="#cdd5ed"/>
<rect x="1862.81" width="14.023" height="66.7" fill="#efb75d"/>
<rect x="1876.83" width="14.023" height="66.7" fill="#efb75d"/>
<rect x="1890.86" width="14.023" height="66.7" fill="#e8ad58"/>
<rect x="1904.88" width="14.023" height="66.7" fill="#efb75d"/>
<rect x="1918.90" width="14.023" height="66.7" fill="#e8ad58"/>
<rect x="1932.93" width="14.023" height="66.7" fill="#e8ad58"/>
<rect x="1946.95" width="14.023" height="66.7" fill="#e8ad58"/>
<rect x="1960.97" width="14.023" height="66.7" fill="#efb75d"/>
<rect x="1974.99" width="14.023" height="66.7" fill="#cdd5ed"/>
<rect x="1989.02" width="14.023" height="66.7" fill="#efb75d"/>
<rect x="2003.04" width="14.023" height="66.7" fill="#efb75d"/>
<rect x="2017.06" width="14.023" height="66.7" fill="#efb75d"/>
<rect x="2031.09" width="14.023" height="66.7" fill="#efb75d"/>
<rect x="2045.11" width="14.023" height="66.7" fill="#cdd5ed"/>
<rect x="2059.13" width="14.023" height="66.7" fill="#efb75d"/>
<rect x="2073.16" width="14.023" height="66.7" fill="#efb75d"/>
<rect x="2087.18" width="14.023" height="66.7" fill="#cdd5ed"/>
<rect x="2101.20" width="14.023" height="66.7" fill="#efb75d"/>
<rect x="2115.22" width="14.023" height="66.7" fill="#efb75d"/>
<rect x="2129.25" width="14.023" height="66.7" fill="#efb75d"/>
<rect x="2143.27" width="14.023" height="66.7" fill="#cdd5ed"/>
<rect x="2157.29" width="14.023" height="66.7" fill="#cdd5ed"/>
<rect x="2171.32" width="14.023" height="66.7" fill="#efb75d"/>
<rect x="2185.34" width="14.023" height="66.7" fill="#cdd5ed"/>
<rect x="2199.36" width="14.023" height="66.7" fill="#cdd5ed"/>
<rect x="2213.39" width="14.023" height="66.7" fill="#efb75d"/>
<rect x="2227.41" width="14.023" height="66.7" fill="#cdd5ed"/>
<rect x="2241.43" width="14.023" height="66.7" fill="#efb75d"/>
<rect x="2255.45" width="14.023" height="66.7" fill="#cdd5ed"/>
<rect x="2269.48" width="14.023" height="66.7" fill="#cdd5ed"/>
<rect x="2283.50" width="14.023" height="66.7" fill="#efb75d"/>
<rect x="2297.52" width="14.023" height="66.7" fill="#efb75d"/>
<rect x="2311.55" width="14.023" height="66.7" fill="#cdd5ed"/>
<rect x="2325.57" width="14.023" height="66.7" fill="#efb75d"/>
<rect x="2339.59" width="14.023" height="66.7" fill="#cdd5ed"/>
<rect x="2353.62" width="14.023" height="66.7" fill="#efb75d"/>
<rect x="2367.64" width="14.023" height="66.7" fill="#efb75d"/>
<rect x="2381.66" width="14.023" height="66.7" fill="#efb75d"/>
<rect x="2395.68" width="14.023" height="66.7" fill="#efb75d"/>
<rect x="2409.71" width="14.023" height="66.7" fill="#efb75d"/>
<rect x="2423.73" width="14.023" height="66.7" fill="#efb75d"/>
<rect x="2437.75" width="14.023" height="66.7" fill="#efb75d"/>
<rect x="2451.78" width="14.023" height="66.7" fill="#cdd5ed"/>
<rect x="2465.80" width="14.023" height="66.7" fill="#cdd5ed"/>
<rect x="2479.82" width="14.023" height="66.7" fill="#cdd5ed"/>
<rect x="2493.85" width="14.023" height="66.7" fill="#cdd5ed"/>
<rect x="2507.87" width="14.023" height="66.7" fill="#cdd5ed"/>
<rect x="2521.89" width="14.023" height="66.7" fill="#e8ad58"/>
<rect x="2535.91" width="14.023" height="66.7" fill="#efb75d"/>
<rect x="2549.94" width="14.023" height="66.7" fill="#efb75d"/>
<rect x="2563.96" width="14.023" height="66.7" fill="#efb75d"/>
<rect x="2577.98" width="14.023" height="66.7" fill="#efb75d"/>
<rect x="2592.01" width="14.023" height="66.7" fill="#efb75d"/>
<rect x="2606.03" width="14.023" height="66.7" fill="#efb75d"/>
<rect x="2620.05" width="14.023" height="66.7" fill="#efb75d"/>
<rect x="2648.10" width="14.023" height="66.7" fill="#efb75d"/>
</g>
<g transform="translate(0,586.05)">
<rect x="348.33" width="14.023" height="66.7" fill="#cdd5ed"/>
<rect x="362.35" width="14.023" height="66.7" fill="#cdd5ed"/>
<rect x="376.37" width="14.023" height="66.7" fill="#cdd5ed"/>
<rect x="390.40" width="14.023" height="66.7" fill="#cdd5ed"/>
<rect x="404.42" width="14.023" height="66.7" fill="#cdd5ed"/>
<rect x="418.44" width="14.023" height="66.7" fill="#efb75d"/>
<rect x="432.47" width="14.023" height="66.7" fill="#cdd5ed"/>
<rect x="446.49" width="14.023" height="66.7" fill="#efb75d"/>
<rect x="460.51" width="14.023" height="66.7" fill="#cdd5ed"/>
<rect x="474.53" width="14.023" height="66.7" fill="#efb75d"/>
<rect x="488.56" width="14.023" height="66.7" fill="#cdd5ed"/>
<rect x="502.58" width="14.023" height="66.7" fill="#cdd5ed"/>
<rect x="516.60" width="14.023" height="66.7" fill="#cdd5ed"/>
<rect x="530.63" width="14.023" height="66.7" fill="#cdd5ed"/>
<rect x="544.65" width="14.023" height="66.7" fill="#efb75d"/>
<rect x="558.67" width="14.023" height="66.7" fill="#cdd5ed"/>
<rect x="572.70" width="14.023" height="66.7" fill="#e8ad58"/>
<rect x="586.72" width="14.023" height="66.7" fill="#cdd5ed"/>
<rect x="600.74" width="14.023" height="66.7" fill="#cdd5ed"/>
<rect x="614.76" width="14.023" height="66.7" fill="#cdd5ed"/>
<rect x="628.79" width="14.023" height="66.7" fill="#cdd5ed"/>
<rect x="642.81" width="14.023" height="66.7" fill="#cdd5ed"/>
<rect x="656.83" width="14.023" height="66.7" fill="#efb75d"/>
<rect x="670.86" width="14.023" height="66.7" fill="#efb75d"/>
<rect x="684.88" width="14.023" height="66.7" fill="#cdd5ed"/>
<rect x="698.90" width="14.023" height="66.7" fill="#efb75d"/>
<rect x="712.92" width="14.023" height="66.7" fill="#cdd5ed"/>
<rect x="726.95" width="14.023" height="66.7" fill="#cdd5ed"/>
<rect x="740.97" width="14.023" height="66.7" fill="#cdd5ed"/>
<rect x="754.99" width="14.023" height="66.7" fill="#cdd5ed"/>
<rect x="769.02" width="14.023" height="66.7" fill="#cdd5ed"/>
<rect x="783.04" width="14.023" height="66.7" fill="#cdd5ed"/>
<rect x="797.06" width="14.023" height="66.7" fill="#cdd5ed"/>
<rect x="811.09" width="14.023" height="66.7" fill="#cdd5ed"/>
<rect x="825.11" width="14.023" height="66.7" fill="#cdd5ed"/>
<rect x="839.13" width="14.023" height="66.7" fill="#cdd5ed"/>
<rect x="853.15" width="14.023" height="66.7" fill="#cdd5ed"/>
<rect x="867.18" width="14.023" height="66.7" fill="#cdd5ed"/>
<rect x="881.20" width="14.023" height="66.7" fill="#cdd5ed"/>
<rect x="895.22" width="14.023" height="66.7" fill="#cdd5ed"/>
<rect x="909.25" width="14.023" height="66.7" fill="#cdd5ed"/>
<rect x="923.27" width="14.023" height="66.7" fill="#cdd5ed"/>
<rect x="937.29" width="14.023" height="66.7" fill="#cdd5ed"/>
<rect x="951.32" width="14.023" height="66.7" fill="#e8ad58"/>
<rect x="965.34" width="14.023" height="66.7" fill="#cdd5ed"/>
<rect x="979.36" width="14.023" height="66.7" fill="#efb75d"/>
<rect x="993.38" width="14.023" height="66.7" fill="#cdd5ed"/>
<rect x="1007.41" width="14.023" height="66.7" fill="#efb75d"/>
<rect x="1021.43" width="14.023" height="66.7" fill="#e8ad58"/>
<rect x="1035.45" width="14.023" height="66.7" fill="#efb75d"/>
<rect x="1063.50" width="14.023" height="66.7" fill="#efb75d"/>
<rect x="1077.52" width="14.023" height="66.7" fill="#cdd5ed"/>
<rect x="1091.55" width="14.023" height="66.7" fill="#cdd5ed"/>
<rect x="1105.57" width="14.023" height="66.7" fill="#cdd5ed"/>
<rect x="1119.59" width="14.023" height="66.7" fill="#cdd5ed"/>
<rect x="1133.62" width="14.023" height="66.7" fill="#cdd5ed"/>
<rect x="1147.64" width="14.023" height="66.7" fill="#cdd5ed"/>
<rect x="1161.66" width="14.023" height="66.7" fill="#cdd5ed"/>
<rect x="1175.68" width="14.023" height="66.7" fill="#cdd5ed"/>
<rect x="1189.71" width="14.023" height="66.7" fill="#cdd5ed"/>
<rect x="1203.73" width="14.023" height="66.7" fill="#cdd5ed"/>
<rect x="1217.75" width="14.023" height="66.7" fill="#cdd5ed"/>
<rect x="1231.78" width="14.023" height="66.7" fill="#efb75d"/>
<rect x="1245.80" width="14.023" height="66.7" fill="#efb75d"/>
<rect x="1259.82" width="14.023" height="66.7" fill="#d28f50"/>
<rect x="1273.85" width="14.023" height="66.7" fill="#df9f54"/>
<rect x="1287.87" width="14.023" height="66.7" fill="#efb75d"/>
<rect x="1301.89" width="14.023" height="66.7" fill="#e8ad58"/>
<rect x="1315.91" width="14.023" height="66.7" fill="#efb75d"/>
<rect x="1329.94" width="14.023" height="66.7" fill="#efb75d"/>
<rect x="1343.96" width="14.023" height="66.7" fill="#efb75d"/>
<rect x="1357.98" width="14.023" height="66.7" fill="#e8ad58"/>
<rect x="1372.01" width="14.023" height="66.7" fill="#efb75d"/>
<rect x="1386.03" width="14.023" height="66.7" fill="#e8ad58"/>
<rect x="1400.05" width="14.023" height="66.7" fill="#efb75d"/>
<rect x="1414.07" width="14.023" height="66.7" fill="#e8ad58"/>
<rect x="1428.10" width="14.023" height="66.7" fill="#efb75d"/>
<rect x="1442.12" width="14.023" height="66.7" fill="#df9f54"/>
<rect x="1456.14" width="14.023" height="66.7" fill="#e8ad58"/>
<rect x="1470.17" width="14.023" height="66.7" fill="#e8ad58"/>
<rect x="1484.19" width="14.023" height="66.7" fill="#cdd5ed"/>
<rect x="1498.21" width="14.023" height="66.7" fill="#efb75d"/>
<rect x="1512.24" width="14.023" height="66.7" fill="#efb75d"/>
<rect x="1526.26" width="14.023" height="66.7" fill="#df9f54"/>
<rect x="1540.28" width="14.023" height="66.7" fill="#e8ad58"/>
<rect x="1554.30" width="14.023" height="66.7" fill="#e8ad58"/>
<rect x="1568.33" width="14.023" height="66.7" fill="#e8ad58"/>
<rect x="1582.35" width="14.023" height="66.7" fill="#efb75d"/>
<rect x="1596.37" width="14.023" height="66.7" fill="#efb75d"/>
<rect x="1610.40" width="14.023" height="66.7" fill="#efb75d"/>
<rect x="1624.42" width="14.023" height="66.7" fill="#efb75d"/>
<rect x="1638.44" width="14.023" height="66.7" fill="#cdd5ed"/>
<rect x="1652.47" width="14.023" height="66.7" fill="#efb75d"/>
<rect x="1666.49" width="14.023" height="66.7" fill="#cdd5ed"/>
<rect x="1680.51" width="14.023" height="66.7" fill="#efb75d"/>
<rect x="1694.53" width="14.023" height="66.7" fill="#df9f54"/>
<rect x="1708.56" width="14.023" height="66.7" fill="#efb75d"/>
<rect x="1722.58" width="14.023" height="66.7" fill="#e8ad58"/>
<rect x="1736.60" width="14.023" height="66.7" fill="#efb75d"/>
<rect x="1750.63" width="14.023" height="66.7" fill="#cdd5ed"/>
<rect x="1764.65" width="14.023" height="66.7" fill="#efb75d"/>
<rect x="1778.67" width="14.023" height="66.7" fill="#df9f54"/>
<rect x="1792.70" width="14.023" height="66.7" fill="#e8ad58"/>
<rect x="1806.72" width="14.023" height="66.7" fill="#df9f54"/>
<rect x="1820.74" width="14.023" height="66.7" fill="#e8ad58"/>
<rect x="1834.76" width="14.023" height="66.7" fill="#efb75d"/>
<rect x="1848.79" width="14.023" height="66.7" fill="#cdd5ed"/>
<rect x="1862.81" width="14.023" height="66.7" fill="#efb75d"/>
<rect x="1876.83" width="14.023" height="66.7" fill="#efb75d"/>
<rect x="1890.86" width="14.023" height="66.7" fill="#e8ad58"/>
<rect x="1904.88" width="14.023" height="66.7" fill="#efb75d"/>
<rect x="1918.90" width="14.023" height="66.7" fill="#cdd5ed"/>
<rect x="1932.93" width="14.023" height="66.7" fill="#cdd5ed"/>
<rect x="1946.95" width="14.023" height="66.7" fill="#cdd5ed"/>
<rect x="1960.97" width="14.023" height="66.7" fill="#cdd5ed"/>
<rect x="1974.99" width="14.023" height="66.7" fill="#efb75d"/>
<rect x="1989.02" width="14.023" height="66.7" fill="#efb75d"/>
<rect x="2003.04" width="14.023" height="66.7" fill="#efb75d"/>
<rect x="2017.06" width="14.023" height="66.7" fill="#efb75d"/>
<rect x="2031.09" width="14.023" height="66.7" fill="#efb75d"/>
<rect x="2045.11" width="14.023" height="66.7" fill="#efb75d"/>
<rect x="2059.13" width="14.023" height="66.7" fill="#e8ad58"/>
<rect x="2073.16" width="14.023" height="66.7" fill="#efb75d"/>
<rect x="2087.18" width="14.023" height="66.7" fill="#cdd5ed"/>
<rect x="2101.20" width="14.023" height="66.7" fill="#df9f54"/>
<rect x="2115.22" width="14.023" height="66.7" fill="#cdd5ed"/>
<rect x="2129.25" width="14.023" height="66.7" fill="#efb75d"/>
<rect x="2143.27" width="14.023" height="66.7" fill="#efb75d"/>
<rect x="2157.29" width="14.023" height="66.7" fill="#efb75d"/>
<rect x="2171.32" width="14.023" height="66.7" fill="#efb75d"/>
<rect x="2185.34" width="14.023" height="66.7" fill="#e8ad58"/>
<rect x="2199.36" width="14.023" height="66.7" fill="#e8ad58"/>
<rect x="2213.39" width="14.023" height="66.7" fill="#efb75d"/>
<rect x="2227.41" width="14.023" height="66.7" fill="#efb75d"/>
<rect x="2241.43" width="14.023" height="66.7" fill="#efb75d"/>
<rect x="2255.45" width="14.023" height="66.7" fill="#efb75d"/>
<rect x="2269.48" width="14.023" height="66.7" fill="#efb75d"/>
<rect x="2283.50" width="14.023" height="66.7" fill="#efb75d"/>
<rect x="2297.52" width="14.023" height="66.7" fill="#efb75d"/>
<rect x="2311.55" width="14.023" height="66.7" fill="#cdd5ed"/>
<rect x="2325.57" width="14.023" height="66.7" fill="#cdd5ed"/>
<rect x="2339.59" width="14.023" height="66.7" fill="#cdd5ed"/>
<rect x="2353.62" width="14.023" height="66.7" fill="#cdd5ed"/>
<rect x="2367.64" width="14.023" height="66.7" fill="#cdd5ed"/>
<rect x="2381.66" width="14.023" height="66.7" fill="#cdd5ed"/>
<rect x="2395.68" width="14.023" height="66.7" fill="#cdd5ed"/>
<rect x="2409.71" width="14.023" height="66.7" fill="#cdd5ed"/>
<rect x="2423.73" width="14.023" height="66.7" fill="#cdd5ed"/>
<rect x="2437.75" width="14.023" height="66.7" fill="#cdd5ed"/>
<rect x="2451.78" width="14.023" height="66.7" fill="#cdd5ed"/>
<rect x="2465.80" width="14.023" height="66.7" fill="#cdd5ed"/>
<rect x="2479.82" width="14.023" height="66.7" fill="#cdd5ed"/>
<rect x="2493.85" width="14.023" height="66.7" fill="#cdd5ed"/>
<rect x="2507.87" width="14.023" height="66.7" fill="#efb75d"/>
<rect x="2521.89" width="14.023" height="66.7" fill="#cdd5ed"/>
<rect x="2535.91" width="14.023" height="66.7" fill="#efb75d"/>
<rect x="2549.94" width="14.023" height="66.7" fill="#cdd5ed"/>
<rect x="2563.96" width="14.023" height="66.7" fill="#efb75d"/>
<rect x="2577.98" width="14.023" height="66.7" fill="#efb75d"/>
<rect x="2592.01" width="14.023" height="66.7" fill="#cdd5ed"/>
<rect x="2606.03" width="14.023" height="66.7" fill="#cdd5ed"/>
<rect x="2620.05" width="14.023" height="66.7" fill="#cdd5ed"/>
<rect x="2648.10" width="14.023" height="66.7" fill="#cdd5ed"/>
</g>
</g>
<rect x="360" y="60" width="2326" height="600" rx="4" fill="none" stroke="#555" stroke-width="2"/>
<rect x="389.75" y="660.5" width="2.1" height="11.2" fill="#555"/>
<rect x="487.91" y="660.5" width="2.1" height="11.2" fill="#555"/>
<rect x="586.07" y="660.5" width="2.1" height="11.2" fill="#555"/>
<rect x="684.23" y="660.5" width="2.1" height="11.2" fill="#555"/>
<rect x="782.39" y="660.5" width="2.1" height="11.2" fill="#555"/>
<rect x="880.55" y="660.5" width="2.1" height="11.2" fill="#555"/>
<rect x="978.71" y="660.5" width="2.1" height="11.2" fill="#555"/>
<rect x="1076.87" y="660.5" width="2.1" height="11.2" fill="#555"/>
<rect x="1175.03" y="660.5" width="2.1" height="11.2" fill="#555"/>
<rect x="1273.20" y="660.5" width="2.1" height="11.2" fill="#555"/>
<rect x="1371.36" y="660.5" width="2.1" height="11.2" fill="#555"/>
<rect x="1469.52" y="660.5" width="2.1" height="11.2" fill="#555"/>
<rect x="1567.68" y="660.5" width="2.1" height="11.2" fill="#555"/>
<rect x="1665.84" y="660.5" width="2.1" height="11.2" fill="#555"/>
<rect x="1764.00" y="660.5" width="2.1" height="11.2" fill="#555"/>
<rect x="1862.16" y="660.5" width="2.1" height="11.2" fill="#555"/>
<rect x="1960.32" y="660.5" width="2.1" height="11.2" fill="#555"/>
<rect x="2058.48" y="660.5" width="2.1" height="11.2" fill="#555"/>
<rect x="2156.64" y="660.5" width="2.1" height="11.2" fill="#555"/>
<rect x="2254.80" y="660.5" width="2.1" height="11.2" fill="#555"/>
<rect x="2352.97" y="660.5" width="2.1" height="11.2" fill="#555"/>
<rect x="2451.13" y="660.5" width="2.1" height="11.2" fill="#555"/>
<rect x="2549.29" y="660.5" width="2.1" height="11.2" fill="#555"/>
<rect x="2647.45" y="660.5" width="2.1" height="11.2" fill="#555"/>
<rect x="453.6" y="758.2" width="24" height="35.7" fill="#b1c0e4"/>
<rect x="669.2" y="758.2" width="250" height="35.7" fill="url(#g)"/>
<text class="t" x="30.28" y="49.7" textLength="334.14" lengthAdjust="spacingAndGlyphs">Influenza B: SCAN Sites</text>
<text class="lb" x="246.18" y="94.6" textLength="103.91" lengthAdjust="spacingAndGlyphs">Gilroy, CA</text>
<text class="ls" x="41.39" y="121.5" textLength="308.03" lengthAdjust="spacingAndGlyphs">(South County Regional Wa...</text>
<text class="lb" x="46.54" y="168.8" textLength="303.27" lengthAdjust="spacingAndGlyphs">Oceanside, San Francisco,...</text>
<text class="ls" x="42.18" y="195.7" textLength="307.24" lengthAdjust="spacingAndGlyphs">(Oceanside Water Pollution...</text>
<text class="lb" x="208.77" y="243.0" textLength="141.29" lengthAdjust="spacingAndGlyphs">Palo Alto, CA</text>
<text class="ls" x="37.49" y="269.9" textLength="311.93" lengthAdjust="spacingAndGlyphs">(Palo Alto Regional Water Q...</text>
<text class="lb" x="159.78" y="317.1" textLength="190.28" lengthAdjust="spacingAndGlyphs">Redwood City, CA</text>
<text class="ls" x="49.79" y="344.0" textLength="299.63" lengthAdjust="spacingAndGlyphs">(Silicon Valley Clean Water...</text>
<text class="lb" x="176.98" y="391.3" textLength="173.08" lengthAdjust="spacingAndGlyphs">Sacramento, CA</text>
<text class="ls" x="36.29" y="418.2" textLength="313.12" lengthAdjust="spacingAndGlyphs">(Sacramento Regional Wast...</text>
<text class="lb" x="207.48" y="465.4" textLength="142.59" lengthAdjust="spacingAndGlyphs">San Jose, CA</text>
<text class="ls" x="42.99" y="492.3" textLength="306.43" lengthAdjust="spacingAndGlyphs">(San Jose-Santa Clara Regi...</text>
<text class="lb" x="56.79" y="539.5" textLength="293.01" lengthAdjust="spacingAndGlyphs">Southeast San Francisco,...</text>
<text class="ls" x="69.39" y="566.5" textLength="279.82" lengthAdjust="spacingAndGlyphs">(Southeast San Francisco)</text>
<text class="lb" x="195.08" y="613.7" textLength="154.98" lengthAdjust="spacingAndGlyphs">Sunnyvale, CA</text>
<text class="ls" x="37.59" y="640.6" textLength="311.82" lengthAdjust="spacingAndGlyphs">(City of Sunnyvale Water Po...</text>
<text class="tk" x="364.21" y="695.0" textLength="52.28" lengthAdjust="spacingAndGlyphs">2023</text>
<text class="tk" x="460.09" y="695.0" textLength="56.76" lengthAdjust="spacingAndGlyphs">Jan 8</text>
<text class="tk" x="551.99" y="695.0" textLength="70.01" lengthAdjust="spacingAndGlyphs">Jan 15</text>
<text class="tk" x="650.20" y="695.0" textLength="70.22" lengthAdjust="spacingAndGlyphs">Jan 22</text>
<text class="tk" x="747.76" y="695.0" textLength="70.39" lengthAdjust="spacingAndGlyphs">Jan 29</text>
<text class="tk" x="851.71" y="695.0" textLength="57.92" lengthAdjust="spacingAndGlyphs">Feb 5</text>
<text class="tk" x="943.24" y="695.0" textLength="72.33" lengthAdjust="spacingAndGlyphs">Feb 12</text>
<text class="tk" x="1041.80" y="695.0" textLength="70.98" lengthAdjust="spacingAndGlyphs">Feb 19</text>
<text class="tk" x="1140.66" y="695.0" textLength="69.97" lengthAdjust="spacingAndGlyphs">Feb 26</text>
<text class="tk" x="1243.93" y="695.0" textLength="59.94" lengthAdjust="spacingAndGlyphs">Mar 5</text>
<text class="tk" x="1335.06" y="695.0" textLength="74.11" lengthAdjust="spacingAndGlyphs">Mar 12</text>
<text class="tk" x="1432.26" y="695.0" textLength="74.52" lengthAdjust="spacingAndGlyphs">Mar 19</text>
<text class="tk" x="1531.12" y="695.0" textLength="74.09" lengthAdjust="spacingAndGlyphs">Mar 26</text>
<text class="tk" x="1639.55" y="695.0" textLength="54.64" lengthAdjust="spacingAndGlyphs">Apr 2</text>
<text class="tk" x="1737.47" y="695.0" textLength="54.43" lengthAdjust="spacingAndGlyphs">Apr 9</text>
<text class="tk" x="1830.15" y="695.0" textLength="67.37" lengthAdjust="spacingAndGlyphs">Apr 16</text>
<text class="tk" x="1927.26" y="695.0" textLength="67.55" lengthAdjust="spacingAndGlyphs">Apr 23</text>
<text class="tk" x="2025.86" y="695.0" textLength="67.45" lengthAdjust="spacingAndGlyphs">Apr 30</text>
<text class="tk" x="2124.80" y="695.0" textLength="64.14" lengthAdjust="spacingAndGlyphs">May 7</text>
<text class="tk" x="2216.65" y="695.0" textLength="77.27" lengthAdjust="spacingAndGlyphs">May 14</text>
<text class="tk" x="2315.13" y="695.0" textLength="76.03" lengthAdjust="spacingAndGlyphs">May 21</text>
<text class="tk" x="2413.44" y="695.0" textLength="76.39" lengthAdjust="spacingAndGlyphs">May 28</text>
<text class="tk" x="2520.87" y="695.0" textLength="58.06" lengthAdjust="spacingAndGlyphs">Jun 4</text>
<text class="tk" x="2613.07" y="695.0" textLength="68.39" lengthAdjust="spacingAndGlyphs">Jun 11</text>
<text class="t" x="1415.07" y="740.0" textLength="215.55" lengthAdjust="spacingAndGlyphs">Collection Date</text>
<text class="lg" x="360.27" y="789.8" textLength="73.77" lengthAdjust="spacingAndGlyphs">Level:</text>
<text class="lg" x="483.74" y="789.8" textLength="164.59" lengthAdjust="spacingAndGlyphs">Not detected</text>
<text class="lh" x="698.81" y="784.7" textLength="47.54" lengthAdjust="spacingAndGlyphs">Low</text>
<text class="lh" x="828.99" y="784.7" textLength="53.96" lengthAdjust="spacingAndGlyphs">High</text>
</svg></body></html>
